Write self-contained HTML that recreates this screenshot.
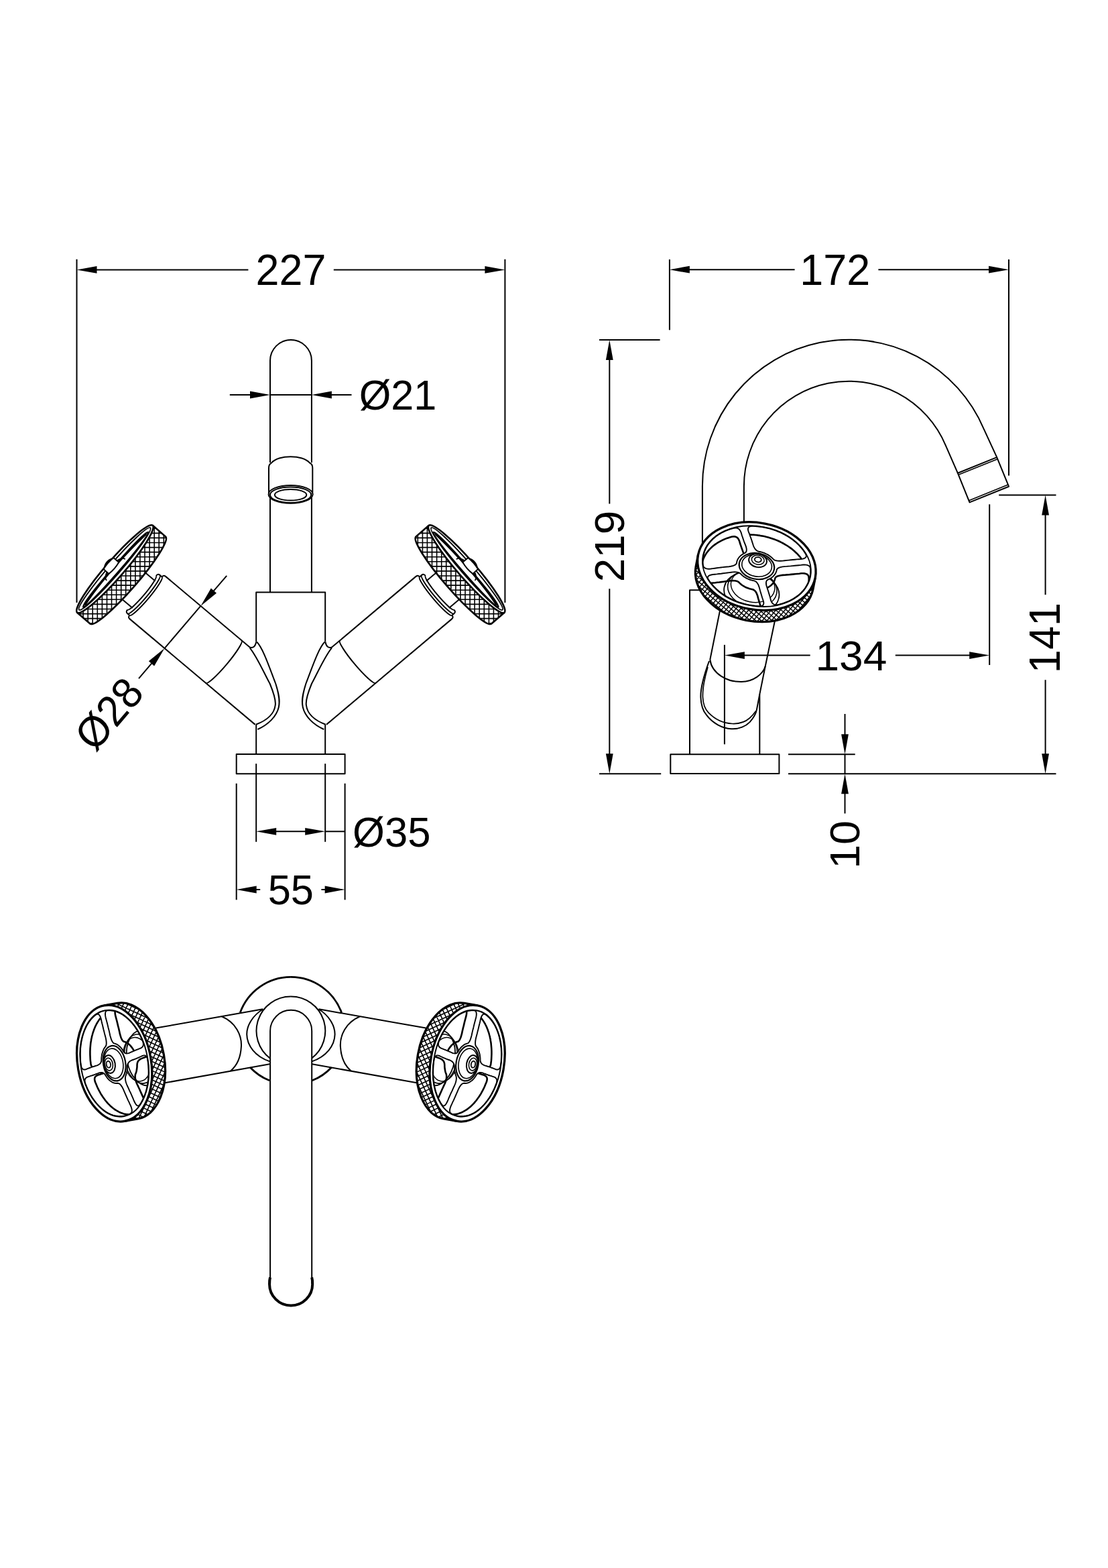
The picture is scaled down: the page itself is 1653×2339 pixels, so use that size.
<!DOCTYPE html>
<html lang="en">
<head>
<meta charset="utf-8">
<title>Tap technical drawing</title>
<style>
html,body{margin:0;padding:0;background:#fff;}
body{width:1653px;height:2339px;overflow:hidden;}
svg{display:block;}
svg text{font-family:"Liberation Sans",sans-serif;font-size:100px;fill:#000;stroke:none;}
</style>
</head>
<body>
<svg width="1653" height="2339" viewBox="0 0 1653 2339" fill="none" stroke="#000" stroke-width="2" stroke-linecap="butt" stroke-linejoin="round">
<rect x="0" y="0" width="1653" height="2339" fill="#fff" stroke="none"/>
<line x1="114.5" y1="386.8" x2="114.5" y2="899"/>
<line x1="753.4" y1="386.8" x2="753.4" y2="899"/>
<line x1="128" y1="402.4" x2="370.4" y2="402.4"/>
<line x1="497.8" y1="402.4" x2="740" y2="402.4"/>
<polygon points="114.5,402.4 144.5,397 144.5,407.8" fill="#000" stroke="none"/>
<polygon points="753.4,402.4 723.4,407.8 723.4,397" fill="#000" stroke="none"/>
<text transform="translate(381.56 425.3) scale(0.6284 0.6409)">227</text>
<path d="M403 690 L403 538 A30.95 30.95 0 0 1 464.9 538 L464.9 690"/>
<line x1="403" y1="741" x2="403" y2="883.4"/>
<line x1="464.9" y1="741" x2="464.9" y2="883.4"/>
<path d="M401 738 L401 698 C401 693 403 691.5 405 690.5 C415 678 452 678 462 690.5 C464.5 691.5 466.3 693 466.3 698 L466.3 738" fill="#fff"/>
<ellipse cx="433.6" cy="737.4" rx="33" ry="13.4" fill="#fff"/>
<ellipse cx="433.6" cy="738.2" rx="30.6" ry="11.7"/>
<ellipse cx="433.6" cy="738.3" rx="23.7" ry="8.3"/>
<line x1="342.8" y1="589" x2="389" y2="589"/>
<line x1="403" y1="589" x2="464.9" y2="589"/>
<line x1="479" y1="589" x2="524.5" y2="589"/>
<polygon points="403,589 373,594.4 373,583.6" fill="#000" stroke="none"/>
<polygon points="464.9,589 494.9,583.6 494.9,594.4" fill="#000" stroke="none"/>
<text transform="translate(535.71 611) scale(0.6116 0.6351)">Ø21</text>
<path d="M382.2 957.3 L382.2 883.4 L485.2 883.4 L485.2 957.3"/>
<line x1="382.2" y1="1081" x2="382.2" y2="1125.1"/>
<line x1="485.2" y1="1081" x2="485.2" y2="1125.1"/>
<rect x="352.7" y="1125.1" width="161.9" height="29.2"/>
<g transform="translate(272.45 935.5) rotate(40.1)">
<line x1="-100" y1="-26.3" x2="-75.5" y2="-26.3"/>
<line x1="-100" y1="26.3" x2="-75.5" y2="26.3"/>
<path d="M-79.5 -33 Q-80 -37.5 -76 -37.5 L-72 -37.5 M-79.5 33 Q-80 37.5 -76 37.5 L-72 37.5"/>
<path d="M-79.6 -33 A4.6 33 0 0 1 -79.6 33"/>
<path d="M-75.6 -37.3 A5.2 37.3 0 0 1 -75.6 37.3"/>
<path d="M-71.8 -37.5 Q-72.3 -41.5 -68 -41.5 M-71.8 37.5 Q-72.3 41.5 -68 41.5"/>
<path d="M-71.9 -37.6 A5.3 37.6 0 0 1 -71.9 37.6"/>
<line x1="-68.5" y1="-41.5" x2="96.8" y2="-41.5"/>
<line x1="-68.5" y1="41.5" x2="176.4" y2="41.5"/>
<path d="M80.2 -41.5 A5.8 41.5 0 0 1 80.2 41.5"/>
</g>
<path d="M373.1 965.7 Q380.5 967.5 382.2 957.3"/>
<path d="M372.6 966.3 C383 979 392 1000 402.7 1020 C408 1033 412 1044 410.7 1052 C409 1066 397 1075 381.8 1080.8"/>
<path d="M383 957.6 C392 966 402 996 411.3 1020 C416 1035 418 1045 415.8 1055 C412.5 1069 400 1081 384.4 1088"/>
<path d="M227.8 783.8 L247.21 800.64 A13.2 86 40.95 0 1 134.48 930.54 L115.07 913.71 A13.2 86 40.95 0 1 227.8 783.8 Z" fill="#fff" stroke="none"/>
<path d="M228.3 788.3L232.9 788.3 M225.7 795.4L240.9 795.4 M222.1 802.4L247.9 802.4 M217.9 809.5L246.3 809.5 M213.1 816.6L243.1 816.6 M208.1 823.6L238.9 823.6 M202.9 830.7L234.5 830.7 M197.5 837.8L229.5 837.8 M191.7 844.9L224.3 844.9 M185.9 851.9L219.1 851.9 M179.9 859L213.5 859 M173.5 866.1L207.7 866.1 M166.9 873.1L201.7 873.1 M160.3 880.2L195.5 880.2 M153.1 887.3L188.9 887.3 M145.7 894.3L182.3 894.3 M137.7 901.4L175.3 901.4 M128.5 908.5L168.1 908.5 M117.3 915.6L160.3 915.6 M125.5 922.6L151.7 922.6 M133.5 929.7L140.9 929.7 M244.3 798.2L244.3 814.2 M237.2 792.2L237.2 826.6 M230.2 786L230.2 837 M223.1 800.6L223.1 846.8 M216 812.4L216 855.8 M208.9 822.6L208.9 864.6 M201.9 832.2L201.9 873 M194.8 841.2L194.8 881 M187.7 849.8L187.7 888.8 M180.7 858L180.7 896.2 M173.6 866L173.6 903.2 M166.5 873.8L166.5 910 M159.5 881L159.5 916.4 M152.4 888L152.4 922.2 M145.3 894.8L145.3 927.2 M138.2 901L138.2 930.8 M131.2 906.6L131.2 927.6 M124.1 911.4L124.1 921.4 M117 914.2L117 915.4" stroke-width="1.6"/>
<path d="M227.8 783.8 L247.21 800.64 A13.2 86 40.95 0 1 134.48 930.54 L115.07 913.71" stroke-width="2.6"/>
<ellipse cx="171.44" cy="848.75" rx="13.2" ry="86" transform="rotate(40.95 171.44 848.75)" stroke-width="2.6" fill="#fff"/>
<g transform="translate(171.44 848.75) rotate(40.95)">
<ellipse cx="-0.4" cy="0" rx="8.6" ry="81" stroke-width="1.9"/>
<ellipse cx="1.6" cy="0" rx="5" ry="74" stroke-width="2.3"/>
<path d="M1.2 -70 C-1.8 -40 -2.3 -20 -2.3 0 C-2.3 25 -1.3 50 1.7 70" stroke-width="2.4"/>
<path d="M2 -21 A9.5 21 0 0 0 2 21" stroke-width="1.8"/>
<path d="M-2.2 -11.3 L-12.6 -11.3 Q-14.6 0 -12.6 11.3 L-2.2 11.3 Q0.2 0 -2.2 -11.3 Z" stroke-width="1.9" fill="#fff"/>
<path d="M-12.6 -10.8 Q-19.8 0 -12.6 10.8 Q-15 0 -12.6 -10.8 Z" stroke-width="1" fill="#000"/>
</g>
<g transform="translate(867.6 0) scale(-1 1)">
<g transform="translate(272.45 935.5) rotate(40.1)">
<line x1="-100" y1="-26.3" x2="-75.5" y2="-26.3"/>
<line x1="-100" y1="26.3" x2="-75.5" y2="26.3"/>
<path d="M-79.5 -33 Q-80 -37.5 -76 -37.5 L-72 -37.5 M-79.5 33 Q-80 37.5 -76 37.5 L-72 37.5"/>
<path d="M-79.6 -33 A4.6 33 0 0 1 -79.6 33"/>
<path d="M-75.6 -37.3 A5.2 37.3 0 0 1 -75.6 37.3"/>
<path d="M-71.8 -37.5 Q-72.3 -41.5 -68 -41.5 M-71.8 37.5 Q-72.3 41.5 -68 41.5"/>
<path d="M-71.9 -37.6 A5.3 37.6 0 0 1 -71.9 37.6"/>
<line x1="-68.5" y1="-41.5" x2="96.8" y2="-41.5"/>
<line x1="-68.5" y1="41.5" x2="176.4" y2="41.5"/>
<path d="M80.2 -41.5 A5.8 41.5 0 0 1 80.2 41.5"/>
</g>
<path d="M373.1 965.7 Q380.5 967.5 382.2 957.3"/>
<path d="M372.6 966.3 C383 979 392 1000 402.7 1020 C408 1033 412 1044 410.7 1052 C409 1066 397 1075 381.8 1080.8"/>
<path d="M383 957.6 C392 966 402 996 411.3 1020 C416 1035 418 1045 415.8 1055 C412.5 1069 400 1081 384.4 1088"/>
<path d="M227.8 783.8 L247.21 800.64 A13.2 86 40.95 0 1 134.48 930.54 L115.07 913.71 A13.2 86 40.95 0 1 227.8 783.8 Z" fill="#fff" stroke="none"/>
<path d="M228.3 788.3L232.9 788.3 M225.7 795.4L240.9 795.4 M222.1 802.4L247.9 802.4 M217.9 809.5L246.3 809.5 M213.1 816.6L243.1 816.6 M208.1 823.6L238.9 823.6 M202.9 830.7L234.5 830.7 M197.5 837.8L229.5 837.8 M191.7 844.9L224.3 844.9 M185.9 851.9L219.1 851.9 M179.9 859L213.5 859 M173.5 866.1L207.7 866.1 M166.9 873.1L201.7 873.1 M160.3 880.2L195.5 880.2 M153.1 887.3L188.9 887.3 M145.7 894.3L182.3 894.3 M137.7 901.4L175.3 901.4 M128.5 908.5L168.1 908.5 M117.3 915.6L160.3 915.6 M125.5 922.6L151.7 922.6 M133.5 929.7L140.9 929.7 M244.3 798.2L244.3 814.2 M237.2 792.2L237.2 826.6 M230.2 786L230.2 837 M223.1 800.6L223.1 846.8 M216 812.4L216 855.8 M208.9 822.6L208.9 864.6 M201.9 832.2L201.9 873 M194.8 841.2L194.8 881 M187.7 849.8L187.7 888.8 M180.7 858L180.7 896.2 M173.6 866L173.6 903.2 M166.5 873.8L166.5 910 M159.5 881L159.5 916.4 M152.4 888L152.4 922.2 M145.3 894.8L145.3 927.2 M138.2 901L138.2 930.8 M131.2 906.6L131.2 927.6 M124.1 911.4L124.1 921.4 M117 914.2L117 915.4" stroke-width="1.6"/>
<path d="M227.8 783.8 L247.21 800.64 A13.2 86 40.95 0 1 134.48 930.54 L115.07 913.71" stroke-width="2.6"/>
<ellipse cx="171.44" cy="848.75" rx="13.2" ry="86" transform="rotate(40.95 171.44 848.75)" stroke-width="2.6" fill="#fff"/>
<g transform="translate(171.44 848.75) rotate(40.95)">
<ellipse cx="-0.4" cy="0" rx="8.6" ry="81" stroke-width="1.9"/>
<ellipse cx="1.6" cy="0" rx="5" ry="74" stroke-width="2.3"/>
<path d="M1.2 -70 C-1.8 -40 -2.3 -20 -2.3 0 C-2.3 25 -1.3 50 1.7 70" stroke-width="2.4"/>
<path d="M2 -21 A9.5 21 0 0 0 2 21" stroke-width="1.8"/>
<path d="M-2.2 -11.3 L-12.6 -11.3 Q-14.6 0 -12.6 11.3 L-2.2 11.3 Q0.2 0 -2.2 -11.3 Z" stroke-width="1.9" fill="#fff"/>
<path d="M-12.6 -10.8 Q-19.8 0 -12.6 10.8 Q-15 0 -12.6 -10.8 Z" stroke-width="1" fill="#000"/>
</g>
</g>
<line x1="338.2" y1="858.8" x2="308.5" y2="893.3"/>
<line x1="299.4" y1="903.9" x2="245.5" y2="967.1"/>
<line x1="236.4" y1="977.7" x2="207" y2="1012.1"/>
<polygon points="299.4,903.9 314.82,877.61 323.02,884.64" fill="#000" stroke="none"/>
<polygon points="245.5,967.1 230.08,993.39 221.88,986.36" fill="#000" stroke="none"/>
<text transform="translate(179.3 1079.2) rotate(-49.4) scale(0.6160 0.6423) translate(-94.2500 0)">Ø28</text>
<line x1="382.2" y1="1139.2" x2="382.2" y2="1255.8"/>
<line x1="485.2" y1="1139.2" x2="485.2" y2="1255.8"/>
<line x1="352.7" y1="1168.7" x2="352.7" y2="1342.3"/>
<line x1="514.6" y1="1168.7" x2="514.6" y2="1342.3"/>
<line x1="396" y1="1240.3" x2="471" y2="1240.3"/>
<line x1="485.2" y1="1240.3" x2="514.6" y2="1240.3"/>
<polygon points="382.2,1240.3 412.2,1234.9 412.2,1245.7" fill="#000" stroke="none"/>
<polygon points="485.2,1240.3 455.2,1245.7 455.2,1234.9" fill="#000" stroke="none"/>
<text transform="translate(526.09 1263.36) scale(0.6152 0.6375)">Ø35</text>
<line x1="366" y1="1327" x2="388.2" y2="1327"/>
<line x1="479.4" y1="1327" x2="501" y2="1327"/>
<polygon points="352.7,1327 382.7,1321.6 382.7,1332.4" fill="#000" stroke="none"/>
<polygon points="514.6,1327 484.6,1332.4 484.6,1321.6" fill="#000" stroke="none"/>
<text transform="translate(399.75 1348.96) scale(0.6136 0.6366)">55</text>
<line x1="998.9" y1="387" x2="998.9" y2="492.3"/>
<line x1="1505" y1="387" x2="1505" y2="709.4"/>
<line x1="1013" y1="402.2" x2="1185.6" y2="402.2"/>
<line x1="1310.4" y1="402.2" x2="1491" y2="402.2"/>
<polygon points="998.9,402.2 1028.9,396.8 1028.9,407.6" fill="#000" stroke="none"/>
<polygon points="1505,402.2 1475,407.6 1475,396.8" fill="#000" stroke="none"/>
<text transform="translate(1193.28 425.3) scale(0.6288 0.6409)">172</text>
<line x1="894" y1="507.1" x2="984.6" y2="507.1"/>
<line x1="894" y1="1154.3" x2="986.2" y2="1154.3"/>
<line x1="909.3" y1="521" x2="909.3" y2="751.5"/>
<line x1="909.3" y1="878.2" x2="909.3" y2="1140"/>
<polygon points="909.3,507.1 914.7,537.1 903.9,537.1" fill="#000" stroke="none"/>
<polygon points="909.3,1154.3 903.9,1124.3 914.7,1124.3" fill="#000" stroke="none"/>
<text transform="translate(930.67 868.19) rotate(-90) scale(0.6378 0.6318)">219</text>
<line x1="1490.2" y1="738.6" x2="1575.5" y2="738.6"/>
<line x1="1176" y1="1154.3" x2="1575.5" y2="1154.3"/>
<line x1="1559.6" y1="752.5" x2="1559.6" y2="887.2"/>
<line x1="1559.6" y1="1014.2" x2="1559.6" y2="1140"/>
<polygon points="1559.6,738.6 1565,768.6 1554.2,768.6" fill="#000" stroke="none"/>
<polygon points="1559.6,1154.3 1554.2,1124.3 1565,1124.3" fill="#000" stroke="none"/>
<text transform="translate(1580.9 1004.13) rotate(-90) scale(0.6304 0.6502)">141</text>
<line x1="1080.9" y1="961.9" x2="1080.9" y2="1110.3"/>
<line x1="1476.2" y1="752.3" x2="1476.2" y2="992"/>
<line x1="1095" y1="977.6" x2="1208.7" y2="977.6"/>
<line x1="1335.8" y1="977.6" x2="1462" y2="977.6"/>
<polygon points="1080.9,977.6 1110.9,972.2 1110.9,983" fill="#000" stroke="none"/>
<polygon points="1476.2,977.6 1446.2,983 1446.2,972.2" fill="#000" stroke="none"/>
<text transform="translate(1216.39 999.97) scale(0.6409 0.6318)">134</text>
<line x1="1176" y1="1125.2" x2="1275.7" y2="1125.2"/>
<line x1="1260.5" y1="1065" x2="1260.5" y2="1111"/>
<line x1="1260.5" y1="1125.2" x2="1260.5" y2="1154.3"/>
<line x1="1260.5" y1="1168" x2="1260.5" y2="1213.5"/>
<polygon points="1260.5,1125.2 1255.1,1095.2 1265.9,1095.2" fill="#000" stroke="none"/>
<polygon points="1260.5,1154.3 1265.9,1184.3 1255.1,1184.3" fill="#000" stroke="none"/>
<text transform="translate(1282.17 1295.96) rotate(-90) scale(0.6486 0.6318)">10</text>
<path d="M1047.9 812 L1047.9 725.3 A218.6 218.6 0 0 1 1467.72 639.89 L1487.2 682.1"/>
<path d="M1109.9 790 L1109.9 725.3 A156.6 156.6 0 0 1 1410.65 664.11 L1428.8 705.7"/>
<path d="M1428.8 705.7 L1487.2 682.1 L1505 725.7 L1446.5 749.4 Z"/>
<path d="M1429.8 708.3 L1488.3 684.7" stroke-width="1.6"/>
<path d="M1445.4 746.7 L1503.9 723" stroke-width="1.6"/>
<rect x="1000.3" y="1125.2" width="162.1" height="28.9"/>
<path d="M1029 1125.2 L1029 880.2 L1060 880.2"/>
<line x1="1133.3" y1="1035.6" x2="1133.3" y2="1125.2"/>
<path d="M1074.6 908 L1059.3 984"/>
<path d="M1156.2 925 L1141.7 994 L1133.3 1035.6 L1128.6 1060.2"/>
<path d="M1059.3 984 C1062 1005 1085 1017.5 1106.3 1017.1 C1124 1016.5 1138 1006 1141.7 994"/>
<path d="M1058 986 C1051 1005 1045 1025 1045.4 1040 C1046 1055 1050 1062 1053.9 1066.4 C1063 1079 1078 1086.5 1090.9 1087.2 C1103 1088 1113 1083 1118.6 1077.1 C1124 1071 1127 1066 1128.6 1060.2"/>
<path d="M1056 995 C1051 1012 1048 1028 1048.5 1040 C1049 1053 1053 1059 1057 1063.2 C1066 1072.5 1079 1079 1092.4 1079.5 C1104 1080 1113 1076 1118.6 1071 C1124 1066 1126.5 1062 1127.9 1060.2" stroke-width="1.7"/>
<path d="M1216.26 861.58 L1212.9 878.9 A64.7 89 101 0 1 1038.17 844.94 L1041.54 827.62 A64.7 89 101 0 1 1216.26 861.58 Z" fill="#fff" stroke="none"/>
<path d="M1214.1 869.4L1214.5 869.8 M1212 874.4L1213.5 875.7 M1209.2 878.9L1212.3 881.5 M1206.2 883.1L1210.5 886.7 M1202.7 887L1208.4 891.7 M1198.9 890.6L1205.6 896.2 M1194.8 893.9L1202.6 900.5 M1190.2 896.9L1199.1 904.3 M1185.5 899.7L1195.3 907.9 M1180.3 902.2L1191.2 911.3 M1174.8 904.3L1186.8 914.4 M1169 906.3L1181.9 917.1 M1162.8 907.8L1176.7 919.5 M1156.1 909L1171.2 921.7 M1149 909.9L1165.4 923.6 M1141.4 910.2L1159.2 925.2 M1133 910L1152.6 926.4 M1039.6 838.4L1040.7 839.3 M1124 909.2L1145.5 927.2 M1038.4 844.2L1041.8 847 M1113.8 907.4L1137.8 927.6 M1037.5 850.2L1044.5 856.1 M1101.7 904.1L1129.6 927.5 M1037.5 857L1051.5 868.7 M1085.6 897.4L1120.4 926.6 M1038.5 864.6L1110.2 924.8 M1041.4 873.8L1098.1 921.4 M1048.2 886.3L1082.2 914.9 M1210.4 887.4L1188.9 913 M1213.5 875.6L1176.4 919.7 M1187.4 898.6L1166.7 923.3 M1176.2 903.9L1158 925.5 M1166.9 906.8L1150.2 926.7 M1158.7 908.5L1142.9 927.4 M1151 909.6L1135.9 927.6 M1143.8 910.1L1129.3 927.4 M1137 910.1L1123 926.8 M1130.4 909.9L1116.9 925.9 M1124.1 909.3L1111 924.9 M1118.2 908.2L1105.4 923.6 M1112.4 907L1100 921.9 M1106.8 905.7L1094.6 920.2 M1101.4 904L1089.5 918.1 M1096.1 902.2L1084.5 916 M1091.1 900.1L1079.8 913.6 M1086.2 897.8L1075.3 910.9 M1081.6 895.3L1070.8 908.1 M1077 892.7L1066.5 905.1 M1072.6 889.8L1062.6 901.7 M1068.5 886.6L1058.6 898.4 M1064.5 883.3L1055 894.6 M1060.6 879.8L1051.5 890.6 M1057 876L1048.3 886.4 M1053.7 871.9L1045.3 881.8 M1050.6 867.4L1042.8 876.8 M1047.7 862.9L1040.5 871.5 M1045.2 857.7L1038.7 865.5 M1043.2 852.1L1037.6 858.6 M1041.5 846L1037.5 850.7 M1040.7 838.8L1039.1 840.8" stroke-width="1.5"/>
<path d="M1216.26 861.58 L1212.9 878.9 A64.7 89 101 0 1 1038.17 844.94 L1041.54 827.62" stroke-width="3.3"/>
<ellipse cx="1128.9" cy="844.6" rx="64.7" ry="89" transform="rotate(101 1128.9 844.6)" stroke-width="3.3" fill="#fff"/>
<ellipse cx="1128.9" cy="844.6" rx="59.32" ry="81.6" transform="rotate(101 1128.9 844.6)" stroke-width="2"/>
<clipPath id="wc1"><path d="M1098.9 840.1 L1099.1 839 L1099.3 837.9 L1099.6 836.8 L1100 835.7 L1100.5 834.7 L1101 833.7 L1101.6 832.7 L1102.3 831.7 L1103.1 830.8 L1103.9 829.9 L1104.8 829.1 L1105.8 828.3 L1106.8 827.5 L1107.9 826.8 L1109 826.1 L1110.2 825.5 L1111.4 824.9 L1112.4 824.1 L1113.1 823.1 L1113.6 821.8 L1113.8 820.4 L1113.7 818.7 L1113.3 816.8 L1112.7 814.7 L1111.8 812.4 L1110.9 810.1 L1110 807.8 L1109.2 805.5 L1108.4 803.1 L1107.6 800.8 L1106.8 798.5 L1106.1 796.1 L1105.4 793.8 L1104.4 791.8 L1103.3 790.2 L1102.1 789 L1100.6 788.1 L1098.9 787.6 L1097.1 787.5 L1095.1 787.7 L1092.9 788.3 L1090.7 788.9 L1088.6 789.6 L1086.5 790.3 L1084.5 791.1 L1082.5 791.9 L1080.5 792.8 L1078.6 793.8 L1076.7 794.7 L1074.9 795.8 L1073.1 796.8 L1071.4 798 L1069.7 799.1 L1068.1 800.3 L1066.6 801.5 L1065.1 802.8 L1063.6 804.1 L1062.2 805.5 L1060.9 806.9 L1059.6 808.3 L1058.4 809.8 L1057.3 811.2 L1056.2 812.8 L1055.2 814.3 L1054.3 815.9 L1053.4 817.5 L1052.6 819.1 L1051.9 820.8 L1051.2 822.4 L1050.7 824.1 L1050.2 825.8 L1049.7 827.6 L1049.3 829.3 L1049 831.1 L1048.8 832.9 L1048.7 834.6 L1048.6 836.4 L1048.6 838.2 L1048.7 840 L1048.8 841.8 L1049 843.7 L1049.6 845.2 L1050.5 846.5 L1051.8 847.4 L1053.4 848.1 L1055.4 848.5 L1057.7 848.7 L1060.3 848.5 L1063.3 848.1 L1066.4 847.7 L1069.4 847.3 L1072.4 846.9 L1075.4 846.5 L1078.5 846.1 L1081.5 845.8 L1084.6 845.5 L1087.6 845.2 L1090.3 844.8 L1092.7 844.3 L1094.6 843.7 L1096.2 842.9 L1097.5 842.1 L1098.4 841.2 Z"/></clipPath>
<g clip-path="url(#wc1)">
<path d="M1096.4 853 L1096.6 851.8 L1096.8 850.7 L1097.1 849.6 L1097.5 848.6 L1098 847.5 L1098.5 846.5 L1099.2 845.5 L1099.8 844.5 L1100.6 843.6 L1101.5 842.7 L1102.3 841.9 L1103.3 841.1 L1104.3 840.3 L1105.4 839.6 L1106.5 838.9 L1107.7 838.3 L1109 837.7 L1109.9 836.9 L1110.7 835.9 L1111.1 834.6 L1111.3 833.2 L1111.2 831.5 L1110.8 829.6 L1110.2 827.5 L1109.3 825.2 L1108.4 822.9 L1107.6 820.6 L1106.7 818.3 L1105.9 815.9 L1105.1 813.6 L1104.3 811.3 L1103.6 808.9 L1102.9 806.6 L1101.9 804.6 L1100.9 803 L1099.6 801.8 L1098.1 800.9 L1096.5 800.4 L1094.6 800.3 L1092.6 800.5 L1090.4 801.1 L1088.2 801.7 L1086.1 802.4 L1084 803.1 L1082 803.9 L1080 804.7 L1078 805.6 L1076.1 806.6 L1074.2 807.6 L1072.4 808.6 L1070.6 809.6 L1068.9 810.8 L1067.2 811.9 L1065.6 813.1 L1064.1 814.3 L1062.6 815.6 L1061.1 816.9 L1059.7 818.3 L1058.4 819.7 L1057.1 821.1 L1055.9 822.6 L1054.8 824.1 L1053.7 825.6 L1052.7 827.1 L1051.8 828.7 L1050.9 830.3 L1050.1 831.9 L1049.4 833.6 L1048.8 835.3 L1048.2 836.9 L1047.7 838.7 L1047.2 840.4 L1046.9 842.1 L1046.6 843.9 L1046.3 845.7 L1046.2 847.4 L1046.1 849.2 L1046.1 851 L1046.2 852.8 L1046.3 854.6 L1046.5 856.5 L1047.1 858 L1048 859.3 L1049.3 860.2 L1050.9 860.9 L1052.9 861.3 L1055.2 861.5 L1057.8 861.3 L1060.8 860.9 L1063.9 860.5 L1066.9 860.1 L1069.9 859.7 L1072.9 859.3 L1076 859 L1079 858.6 L1082.1 858.3 L1085.1 858 L1087.8 857.6 L1090.2 857.1 L1092.1 856.5 L1093.7 855.7 L1095 854.9 L1095.9 854 Z" stroke-width="2.6"/>
<ellipse cx="1122.35" cy="878.3" rx="26.9" ry="37" transform="rotate(101 1122.35 878.3)" stroke-width="1.6"/>
<ellipse cx="1121.3" cy="883.69" rx="30.17" ry="41.5" transform="rotate(101 1121.3 883.69)" stroke-width="1.8"/>
<ellipse cx="1123.14" cy="874.26" rx="23.99" ry="33" transform="rotate(101 1123.14 874.26)" stroke-width="1.5"/>
</g>
<path d="M1098.9 840.1 L1099.1 839 L1099.3 837.9 L1099.6 836.8 L1100 835.7 L1100.5 834.7 L1101 833.7 L1101.6 832.7 L1102.3 831.7 L1103.1 830.8 L1103.9 829.9 L1104.8 829.1 L1105.8 828.3 L1106.8 827.5 L1107.9 826.8 L1109 826.1 L1110.2 825.5 L1111.4 824.9 L1112.4 824.1 L1113.1 823.1 L1113.6 821.8 L1113.8 820.4 L1113.7 818.7 L1113.3 816.8 L1112.7 814.7 L1111.8 812.4 L1110.9 810.1 L1110 807.8 L1109.2 805.5 L1108.4 803.1 L1107.6 800.8 L1106.8 798.5 L1106.1 796.1 L1105.4 793.8 L1104.4 791.8 L1103.3 790.2 L1102.1 789 L1100.6 788.1 L1098.9 787.6 L1097.1 787.5 L1095.1 787.7 L1092.9 788.3 L1090.7 788.9 L1088.6 789.6 L1086.5 790.3 L1084.5 791.1 L1082.5 791.9 L1080.5 792.8 L1078.6 793.8 L1076.7 794.7 L1074.9 795.8 L1073.1 796.8 L1071.4 798 L1069.7 799.1 L1068.1 800.3 L1066.6 801.5 L1065.1 802.8 L1063.6 804.1 L1062.2 805.5 L1060.9 806.9 L1059.6 808.3 L1058.4 809.8 L1057.3 811.2 L1056.2 812.8 L1055.2 814.3 L1054.3 815.9 L1053.4 817.5 L1052.6 819.1 L1051.9 820.8 L1051.2 822.4 L1050.7 824.1 L1050.2 825.8 L1049.7 827.6 L1049.3 829.3 L1049 831.1 L1048.8 832.9 L1048.7 834.6 L1048.6 836.4 L1048.6 838.2 L1048.7 840 L1048.8 841.8 L1049 843.7 L1049.6 845.2 L1050.5 846.5 L1051.8 847.4 L1053.4 848.1 L1055.4 848.5 L1057.7 848.7 L1060.3 848.5 L1063.3 848.1 L1066.4 847.7 L1069.4 847.3 L1072.4 846.9 L1075.4 846.5 L1078.5 846.1 L1081.5 845.8 L1084.6 845.5 L1087.6 845.2 L1090.3 844.8 L1092.7 844.3 L1094.6 843.7 L1096.2 842.9 L1097.5 842.1 L1098.4 841.2 Z" stroke-width="1.9"/>
<clipPath id="wc2"><path d="M1131.8 822.7 L1133.4 823 L1134.9 823.3 L1136.4 823.7 L1137.9 824.1 L1139.3 824.6 L1140.7 825.2 L1142.1 825.8 L1143.5 826.5 L1144.9 827.2 L1146.2 827.9 L1147.4 828.7 L1148.6 829.5 L1149.7 830.4 L1150.8 831.3 L1151.8 832.2 L1152.8 833.2 L1153.7 834.2 L1154.9 835.1 L1156.4 835.8 L1158.1 836.3 L1160 836.6 L1162.3 836.8 L1164.8 836.8 L1167.6 836.6 L1170.6 836.2 L1173.7 835.9 L1176.7 835.6 L1179.8 835.3 L1182.8 835 L1185.9 834.7 L1189 834.4 L1192 834.2 L1195.1 834 L1197.7 833.6 L1199.8 833 L1201.3 832.2 L1202.3 831.2 L1202.8 830 L1202.8 828.7 L1202.3 827.1 L1201.3 825.4 L1200.2 823.7 L1199.1 822 L1197.9 820.3 L1196.6 818.7 L1195.3 817.1 L1193.9 815.5 L1192.4 813.9 L1190.9 812.4 L1189.3 810.9 L1187.7 809.4 L1186 807.9 L1184.2 806.5 L1182.5 805.1 L1180.6 803.8 L1178.7 802.5 L1176.8 801.2 L1174.8 800 L1172.8 798.8 L1170.8 797.7 L1168.7 796.6 L1166.5 795.5 L1164.4 794.5 L1162.2 793.5 L1159.9 792.6 L1157.7 791.7 L1155.4 790.9 L1153.1 790.1 L1150.8 789.4 L1148.4 788.7 L1146.1 788.1 L1143.7 787.5 L1141.3 787 L1138.9 786.5 L1136.4 786.1 L1134 785.8 L1131.6 785.5 L1129.2 785.2 L1126.7 785 L1124.3 784.9 L1121.9 784.8 L1119.8 785 L1118.2 785.5 L1117.1 786.3 L1116.3 787.4 L1115.9 788.9 L1116 790.6 L1116.5 792.6 L1117.4 794.9 L1118.3 797.2 L1119.1 799.6 L1120 801.9 L1120.8 804.2 L1121.6 806.5 L1122.3 808.9 L1123.1 811.2 L1123.8 813.5 L1124.6 815.6 L1125.6 817.4 L1126.6 819 L1127.8 820.3 L1129 821.4 L1130.4 822.2 Z"/></clipPath>
<g clip-path="url(#wc2)">
<path d="M1129.3 835.5 L1130.9 835.8 L1132.4 836.1 L1133.9 836.5 L1135.4 837 L1136.8 837.4 L1138.3 838 L1139.7 838.6 L1141 839.3 L1142.4 840 L1143.7 840.7 L1144.9 841.5 L1146.1 842.3 L1147.2 843.2 L1148.3 844.1 L1149.3 845 L1150.3 846 L1151.2 847 L1152.4 847.9 L1153.9 848.6 L1155.6 849.1 L1157.6 849.4 L1159.8 849.6 L1162.3 849.6 L1165.1 849.4 L1168.1 849 L1171.2 848.7 L1174.2 848.4 L1177.3 848.1 L1180.3 847.8 L1183.4 847.5 L1186.5 847.3 L1189.6 847 L1192.6 846.8 L1195.2 846.4 L1197.3 845.8 L1198.8 845 L1199.8 844 L1200.4 842.8 L1200.4 841.5 L1199.8 839.9 L1198.8 838.2 L1197.7 836.5 L1196.6 834.8 L1195.4 833.2 L1194.1 831.5 L1192.8 829.9 L1191.4 828.3 L1189.9 826.7 L1188.4 825.2 L1186.8 823.7 L1185.2 822.2 L1183.5 820.7 L1181.8 819.3 L1180 817.9 L1178.1 816.6 L1176.2 815.3 L1174.3 814 L1172.3 812.8 L1170.3 811.6 L1168.3 810.5 L1166.2 809.4 L1164.1 808.3 L1161.9 807.3 L1159.7 806.3 L1157.4 805.4 L1155.2 804.5 L1152.9 803.7 L1150.6 802.9 L1148.3 802.2 L1145.9 801.5 L1143.6 800.9 L1141.2 800.3 L1138.8 799.8 L1136.4 799.4 L1133.9 798.9 L1131.5 798.6 L1129.1 798.3 L1126.7 798 L1124.2 797.8 L1121.8 797.7 L1119.4 797.6 L1117.4 797.8 L1115.8 798.3 L1114.6 799.1 L1113.8 800.3 L1113.4 801.7 L1113.5 803.4 L1114 805.4 L1114.9 807.7 L1115.8 810 L1116.6 812.4 L1117.5 814.7 L1118.3 817 L1119.1 819.3 L1119.8 821.7 L1120.6 824 L1121.3 826.3 L1122.2 828.4 L1123.1 830.2 L1124.1 831.8 L1125.3 833.1 L1126.5 834.2 L1127.9 835 Z" stroke-width="2.6"/>
<ellipse cx="1122.35" cy="878.3" rx="26.9" ry="37" transform="rotate(101 1122.35 878.3)" stroke-width="1.6"/>
<ellipse cx="1121.3" cy="883.69" rx="30.17" ry="41.5" transform="rotate(101 1121.3 883.69)" stroke-width="1.8"/>
<ellipse cx="1123.14" cy="874.26" rx="23.99" ry="33" transform="rotate(101 1123.14 874.26)" stroke-width="1.5"/>
</g>
<path d="M1131.8 822.7 L1133.4 823 L1134.9 823.3 L1136.4 823.7 L1137.9 824.1 L1139.3 824.6 L1140.7 825.2 L1142.1 825.8 L1143.5 826.5 L1144.9 827.2 L1146.2 827.9 L1147.4 828.7 L1148.6 829.5 L1149.7 830.4 L1150.8 831.3 L1151.8 832.2 L1152.8 833.2 L1153.7 834.2 L1154.9 835.1 L1156.4 835.8 L1158.1 836.3 L1160 836.6 L1162.3 836.8 L1164.8 836.8 L1167.6 836.6 L1170.6 836.2 L1173.7 835.9 L1176.7 835.6 L1179.8 835.3 L1182.8 835 L1185.9 834.7 L1189 834.4 L1192 834.2 L1195.1 834 L1197.7 833.6 L1199.8 833 L1201.3 832.2 L1202.3 831.2 L1202.8 830 L1202.8 828.7 L1202.3 827.1 L1201.3 825.4 L1200.2 823.7 L1199.1 822 L1197.9 820.3 L1196.6 818.7 L1195.3 817.1 L1193.9 815.5 L1192.4 813.9 L1190.9 812.4 L1189.3 810.9 L1187.7 809.4 L1186 807.9 L1184.2 806.5 L1182.5 805.1 L1180.6 803.8 L1178.7 802.5 L1176.8 801.2 L1174.8 800 L1172.8 798.8 L1170.8 797.7 L1168.7 796.6 L1166.5 795.5 L1164.4 794.5 L1162.2 793.5 L1159.9 792.6 L1157.7 791.7 L1155.4 790.9 L1153.1 790.1 L1150.8 789.4 L1148.4 788.7 L1146.1 788.1 L1143.7 787.5 L1141.3 787 L1138.9 786.5 L1136.4 786.1 L1134 785.8 L1131.6 785.5 L1129.2 785.2 L1126.7 785 L1124.3 784.9 L1121.9 784.8 L1119.8 785 L1118.2 785.5 L1117.1 786.3 L1116.3 787.4 L1115.9 788.9 L1116 790.6 L1116.5 792.6 L1117.4 794.9 L1118.3 797.2 L1119.1 799.6 L1120 801.9 L1120.8 804.2 L1121.6 806.5 L1122.3 808.9 L1123.1 811.2 L1123.8 813.5 L1124.6 815.6 L1125.6 817.4 L1126.6 819 L1127.8 820.3 L1129 821.4 L1130.4 822.2 Z" stroke-width="1.9"/>
<clipPath id="wc3"><path d="M1158.8 849.8 L1158.6 850.9 L1158.3 852 L1157.9 853.1 L1157.5 854.2 L1157 855.2 L1156.4 856.2 L1155.7 857.1 L1155 858.1 L1154.1 859 L1153.3 859.9 L1152.3 860.7 L1151.3 861.5 L1150.3 862.2 L1149.2 862.9 L1148 863.5 L1146.8 864.1 L1145.5 864.7 L1144.5 865.4 L1143.7 866.4 L1143.2 867.6 L1142.9 869.1 L1143 870.7 L1143.2 872.6 L1143.8 874.7 L1144.6 877.1 L1145.3 879.4 L1146.1 881.7 L1146.8 884.1 L1147.5 886.4 L1148.2 888.7 L1148.9 891.1 L1149.5 893.4 L1150.1 895.8 L1151 897.8 L1152 899.4 L1153.2 900.7 L1154.6 901.6 L1156.3 902.1 L1158.1 902.3 L1160.1 902.1 L1162.4 901.6 L1164.6 901 L1166.7 900.4 L1168.9 899.7 L1170.9 899 L1173 898.2 L1175 897.4 L1177 896.5 L1178.9 895.6 L1180.8 894.6 L1182.6 893.6 L1184.4 892.5 L1186.1 891.4 L1187.8 890.3 L1189.4 889.1 L1191 887.9 L1192.5 886.6 L1194 885.3 L1195.4 883.9 L1196.7 882.5 L1198 881.1 L1199.2 879.7 L1200.3 878.2 L1201.4 876.7 L1202.4 875.1 L1203.4 873.5 L1204.2 871.9 L1205.1 870.3 L1205.8 868.7 L1206.5 867 L1207 865.3 L1207.6 863.6 L1208 861.9 L1208.4 860.1 L1208.7 858.4 L1209 856.6 L1209.1 854.8 L1209.2 853 L1209.2 851.3 L1209.1 849.4 L1209 847.6 L1208.5 846.1 L1207.7 844.8 L1206.4 843.8 L1204.8 843.1 L1202.9 842.6 L1200.6 842.4 L1197.9 842.5 L1194.9 842.9 L1191.8 843.2 L1188.8 843.5 L1185.7 843.8 L1182.7 844.1 L1179.6 844.4 L1176.5 844.6 L1173.4 844.9 L1170.4 845.1 L1167.6 845.4 L1165.3 845.9 L1163.3 846.4 L1161.6 847.1 L1160.3 847.9 L1159.4 848.8 Z"/></clipPath>
<g clip-path="url(#wc3)">
<path d="M1156.3 862.6 L1156.1 863.8 L1155.8 864.9 L1155.4 865.9 L1155 867 L1154.5 868 L1153.9 869 L1153.2 870 L1152.5 870.9 L1151.6 871.8 L1150.8 872.7 L1149.8 873.5 L1148.8 874.3 L1147.8 875 L1146.7 875.7 L1145.5 876.3 L1144.3 876.9 L1143 877.5 L1142 878.2 L1141.2 879.2 L1140.7 880.5 L1140.5 881.9 L1140.5 883.6 L1140.7 885.4 L1141.3 887.5 L1142.1 889.9 L1142.8 892.2 L1143.6 894.5 L1144.3 896.9 L1145 899.2 L1145.7 901.6 L1146.4 903.9 L1147 906.2 L1147.6 908.6 L1148.5 910.6 L1149.5 912.2 L1150.7 913.5 L1152.2 914.4 L1153.8 914.9 L1155.6 915.1 L1157.6 914.9 L1159.9 914.4 L1162.1 913.8 L1164.2 913.2 L1166.4 912.5 L1168.5 911.8 L1170.5 911 L1172.5 910.2 L1174.5 909.3 L1176.4 908.4 L1178.3 907.4 L1180.1 906.4 L1181.9 905.3 L1183.6 904.2 L1185.3 903.1 L1186.9 901.9 L1188.5 900.7 L1190 899.4 L1191.5 898.1 L1192.9 896.7 L1194.2 895.3 L1195.5 893.9 L1196.7 892.5 L1197.8 891 L1198.9 889.5 L1199.9 887.9 L1200.9 886.3 L1201.8 884.7 L1202.6 883.1 L1203.3 881.5 L1204 879.8 L1204.6 878.1 L1205.1 876.4 L1205.5 874.7 L1205.9 872.9 L1206.2 871.2 L1206.5 869.4 L1206.6 867.6 L1206.7 865.9 L1206.7 864.1 L1206.7 862.3 L1206.5 860.4 L1206 858.9 L1205.2 857.6 L1203.9 856.6 L1202.4 855.9 L1200.4 855.4 L1198.1 855.2 L1195.4 855.3 L1192.4 855.7 L1189.3 856 L1186.3 856.3 L1183.2 856.6 L1180.2 856.9 L1177.1 857.2 L1174 857.4 L1170.9 857.7 L1167.9 857.9 L1165.1 858.2 L1162.8 858.7 L1160.8 859.2 L1159.1 859.9 L1157.8 860.7 L1156.9 861.6 Z" stroke-width="2.6"/>
<ellipse cx="1122.35" cy="878.3" rx="26.9" ry="37" transform="rotate(101 1122.35 878.3)" stroke-width="1.6"/>
<ellipse cx="1121.3" cy="883.69" rx="30.17" ry="41.5" transform="rotate(101 1121.3 883.69)" stroke-width="1.8"/>
<ellipse cx="1123.14" cy="874.26" rx="23.99" ry="33" transform="rotate(101 1123.14 874.26)" stroke-width="1.5"/>
</g>
<path d="M1158.8 849.8 L1158.6 850.9 L1158.3 852 L1157.9 853.1 L1157.5 854.2 L1157 855.2 L1156.4 856.2 L1155.7 857.1 L1155 858.1 L1154.1 859 L1153.3 859.9 L1152.3 860.7 L1151.3 861.5 L1150.3 862.2 L1149.2 862.9 L1148 863.5 L1146.8 864.1 L1145.5 864.7 L1144.5 865.4 L1143.7 866.4 L1143.2 867.6 L1142.9 869.1 L1143 870.7 L1143.2 872.6 L1143.8 874.7 L1144.6 877.1 L1145.3 879.4 L1146.1 881.7 L1146.8 884.1 L1147.5 886.4 L1148.2 888.7 L1148.9 891.1 L1149.5 893.4 L1150.1 895.8 L1151 897.8 L1152 899.4 L1153.2 900.7 L1154.6 901.6 L1156.3 902.1 L1158.1 902.3 L1160.1 902.1 L1162.4 901.6 L1164.6 901 L1166.7 900.4 L1168.9 899.7 L1170.9 899 L1173 898.2 L1175 897.4 L1177 896.5 L1178.9 895.6 L1180.8 894.6 L1182.6 893.6 L1184.4 892.5 L1186.1 891.4 L1187.8 890.3 L1189.4 889.1 L1191 887.9 L1192.5 886.6 L1194 885.3 L1195.4 883.9 L1196.7 882.5 L1198 881.1 L1199.2 879.7 L1200.3 878.2 L1201.4 876.7 L1202.4 875.1 L1203.4 873.5 L1204.2 871.9 L1205.1 870.3 L1205.8 868.7 L1206.5 867 L1207 865.3 L1207.6 863.6 L1208 861.9 L1208.4 860.1 L1208.7 858.4 L1209 856.6 L1209.1 854.8 L1209.2 853 L1209.2 851.3 L1209.1 849.4 L1209 847.6 L1208.5 846.1 L1207.7 844.8 L1206.4 843.8 L1204.8 843.1 L1202.9 842.6 L1200.6 842.4 L1197.9 842.5 L1194.9 842.9 L1191.8 843.2 L1188.8 843.5 L1185.7 843.8 L1182.7 844.1 L1179.6 844.4 L1176.5 844.6 L1173.4 844.9 L1170.4 845.1 L1167.6 845.4 L1165.3 845.9 L1163.3 846.4 L1161.6 847.1 L1160.3 847.9 L1159.4 848.8 Z" stroke-width="1.9"/>
<clipPath id="wc4"><path d="M1125.2 866.4 L1123.8 866.1 L1122.3 865.8 L1120.9 865.4 L1119.5 865 L1118.2 864.5 L1116.8 864 L1115.5 863.4 L1114.2 862.8 L1112.9 862.1 L1111.7 861.4 L1110.5 860.7 L1109.4 859.9 L1108.3 859.1 L1107.3 858.2 L1106.3 857.3 L1105.3 856.4 L1104.5 855.5 L1103.3 854.7 L1101.9 854.1 L1100.2 853.7 L1098.2 853.4 L1096 853.3 L1093.5 853.4 L1090.8 853.7 L1087.8 854.1 L1084.8 854.5 L1081.8 854.9 L1078.7 855.3 L1075.7 855.7 L1072.7 856 L1069.6 856.4 L1066.6 856.7 L1063.5 857 L1061 857.5 L1058.9 858.1 L1057.4 858.9 L1056.4 859.9 L1055.9 861 L1055.9 862.3 L1056.4 863.8 L1057.5 865.4 L1058.5 867 L1059.7 868.6 L1060.9 870.2 L1062.2 871.7 L1063.5 873.2 L1064.8 874.8 L1066.3 876.2 L1067.8 877.7 L1069.3 879.1 L1070.9 880.5 L1072.5 881.9 L1074.2 883.2 L1075.9 884.5 L1077.6 885.8 L1079.4 887 L1081.3 888.2 L1083.2 889.4 L1085.1 890.5 L1087.1 891.6 L1089.1 892.6 L1091.1 893.7 L1093.1 894.6 L1095.2 895.6 L1097.4 896.4 L1099.5 897.3 L1101.7 898.1 L1103.9 898.8 L1106.1 899.5 L1108.3 900.2 L1110.5 900.8 L1112.8 901.4 L1115.1 901.9 L1117.4 902.4 L1119.7 902.8 L1122 903.2 L1124.3 903.5 L1126.6 903.8 L1128.9 904 L1131.2 904.2 L1133.5 904.4 L1135.5 904.2 L1137 903.7 L1138.2 902.9 L1138.9 901.8 L1139.3 900.4 L1139.3 898.7 L1138.9 896.7 L1138.1 894.3 L1137.3 892 L1136.6 889.7 L1135.9 887.3 L1135.2 885 L1134.5 882.7 L1133.8 880.3 L1133.2 878 L1132.5 875.6 L1131.8 873.6 L1131 871.7 L1130 870.2 L1129 868.8 L1127.9 867.8 L1126.6 867 Z"/></clipPath>
<g clip-path="url(#wc4)">
<path d="M1122.8 879.2 L1121.3 878.9 L1119.9 878.6 L1118.4 878.2 L1117.1 877.8 L1115.7 877.3 L1114.3 876.8 L1113 876.2 L1111.7 875.6 L1110.4 874.9 L1109.2 874.2 L1108 873.5 L1106.9 872.7 L1105.8 871.9 L1104.8 871 L1103.8 870.1 L1102.9 869.2 L1102 868.3 L1100.8 867.5 L1099.4 866.9 L1097.7 866.5 L1095.7 866.2 L1093.5 866.1 L1091 866.2 L1088.3 866.5 L1085.3 866.9 L1082.3 867.3 L1079.3 867.7 L1076.2 868.1 L1073.2 868.5 L1070.2 868.8 L1067.1 869.2 L1064.1 869.5 L1061 869.8 L1058.5 870.3 L1056.4 870.9 L1054.9 871.7 L1053.9 872.7 L1053.4 873.8 L1053.4 875.1 L1053.9 876.6 L1055 878.2 L1056.1 879.8 L1057.2 881.4 L1058.4 883 L1059.7 884.5 L1061 886.1 L1062.4 887.6 L1063.8 889 L1065.3 890.5 L1066.8 891.9 L1068.4 893.3 L1070 894.7 L1071.7 896 L1073.4 897.3 L1075.1 898.6 L1077 899.8 L1078.8 901 L1080.7 902.2 L1082.6 903.3 L1084.6 904.4 L1086.6 905.5 L1088.6 906.5 L1090.6 907.4 L1092.7 908.4 L1094.9 909.3 L1097 910.1 L1099.2 910.9 L1101.4 911.6 L1103.6 912.4 L1105.8 913 L1108 913.6 L1110.3 914.2 L1112.6 914.7 L1114.9 915.2 L1117.2 915.6 L1119.5 916 L1121.8 916.3 L1124.1 916.6 L1126.4 916.9 L1128.7 917 L1131.1 917.2 L1133 917 L1134.5 916.5 L1135.7 915.7 L1136.5 914.6 L1136.8 913.2 L1136.8 911.5 L1136.4 909.5 L1135.6 907.2 L1134.8 904.8 L1134.1 902.5 L1133.4 900.2 L1132.7 897.8 L1132 895.5 L1131.3 893.1 L1130.7 890.8 L1130.1 888.4 L1129.3 886.4 L1128.5 884.5 L1127.6 883 L1126.5 881.6 L1125.4 880.6 L1124.1 879.8 Z" stroke-width="2.6"/>
<ellipse cx="1122.35" cy="878.3" rx="26.9" ry="37" transform="rotate(101 1122.35 878.3)" stroke-width="1.6"/>
<ellipse cx="1121.3" cy="883.69" rx="30.17" ry="41.5" transform="rotate(101 1121.3 883.69)" stroke-width="1.8"/>
<ellipse cx="1123.14" cy="874.26" rx="23.99" ry="33" transform="rotate(101 1123.14 874.26)" stroke-width="1.5"/>
</g>
<path d="M1125.2 866.4 L1123.8 866.1 L1122.3 865.8 L1120.9 865.4 L1119.5 865 L1118.2 864.5 L1116.8 864 L1115.5 863.4 L1114.2 862.8 L1112.9 862.1 L1111.7 861.4 L1110.5 860.7 L1109.4 859.9 L1108.3 859.1 L1107.3 858.2 L1106.3 857.3 L1105.3 856.4 L1104.5 855.5 L1103.3 854.7 L1101.9 854.1 L1100.2 853.7 L1098.2 853.4 L1096 853.3 L1093.5 853.4 L1090.8 853.7 L1087.8 854.1 L1084.8 854.5 L1081.8 854.9 L1078.7 855.3 L1075.7 855.7 L1072.7 856 L1069.6 856.4 L1066.6 856.7 L1063.5 857 L1061 857.5 L1058.9 858.1 L1057.4 858.9 L1056.4 859.9 L1055.9 861 L1055.9 862.3 L1056.4 863.8 L1057.5 865.4 L1058.5 867 L1059.7 868.6 L1060.9 870.2 L1062.2 871.7 L1063.5 873.2 L1064.8 874.8 L1066.3 876.2 L1067.8 877.7 L1069.3 879.1 L1070.9 880.5 L1072.5 881.9 L1074.2 883.2 L1075.9 884.5 L1077.6 885.8 L1079.4 887 L1081.3 888.2 L1083.2 889.4 L1085.1 890.5 L1087.1 891.6 L1089.1 892.6 L1091.1 893.7 L1093.1 894.6 L1095.2 895.6 L1097.4 896.4 L1099.5 897.3 L1101.7 898.1 L1103.9 898.8 L1106.1 899.5 L1108.3 900.2 L1110.5 900.8 L1112.8 901.4 L1115.1 901.9 L1117.4 902.4 L1119.7 902.8 L1122 903.2 L1124.3 903.5 L1126.6 903.8 L1128.9 904 L1131.2 904.2 L1133.5 904.4 L1135.5 904.2 L1137 903.7 L1138.2 902.9 L1138.9 901.8 L1139.3 900.4 L1139.3 898.7 L1138.9 896.7 L1138.1 894.3 L1137.3 892 L1136.6 889.7 L1135.9 887.3 L1135.2 885 L1134.5 882.7 L1133.8 880.3 L1133.2 878 L1132.5 875.6 L1131.8 873.6 L1131 871.7 L1130 870.2 L1129 868.8 L1127.9 867.8 L1126.6 867 Z" stroke-width="1.9"/>
<ellipse cx="1128.9" cy="844.6" rx="19.27" ry="26.5" transform="rotate(101 1128.9 844.6)" stroke-width="2.2" fill="#fff"/>
<ellipse cx="1129.1" cy="843.59" rx="16.36" ry="22.5" transform="rotate(101 1129.1 843.59)" stroke-width="1.6"/>
<ellipse cx="1130.52" cy="836.26" rx="9.81" ry="13.5" transform="rotate(101 1130.52 836.26)" stroke-width="2" fill="#fff"/>
<ellipse cx="1130.71" cy="835.27" rx="6.91" ry="9.5" transform="rotate(101 1130.71 835.27)" stroke-width="1.6"/>
<ellipse cx="1130.81" cy="834.78" rx="3.63" ry="5" transform="rotate(101 1130.81 834.78)" stroke-width="1.8"/>
<path d="M358.2 1510.7 A80.5 80.5 0 0 1 433.9 1457.3" stroke-width="2.8"/>
<path d="M373.2 1592.2 A80.5 80.5 0 0 0 402 1611.8" stroke-width="2.8"/>
<line x1="232.5" y1="1533.6" x2="392.3" y2="1505.3"/>
<line x1="246" y1="1615.3" x2="402.5" y2="1587.2"/>
<path d="M330.8 1516.4 C352 1525 361 1545 359.9 1561.4 C359 1578 353 1590 344.1 1597.4"/>
<path d="M392.3 1505.5 C378 1514 368 1529 368.2 1543.1 C368.5 1560 381 1576 402.5 1583.4"/>
<path d="M433.9 1486.6 A51.2 51.2 0 0 0 402.8 1578.6"/>
<path d="M155.49 1499.93 L175.25 1496.45 A54.75 87.6 -10 0 1 205.67 1668.99 L185.91 1672.47 A54.75 87.6 -10 0 1 155.49 1499.93 Z" fill="#fff" stroke="none"/>
<path d="M186.9 1496.4L209 1506.7 M173.2 1496.8L221.4 1519.3 M162.6 1498.7L164.3 1499.5 M191.6 1512.3L228.4 1529.4 M202.6 1524.2L233.2 1538.5 M209.2 1534.2L237 1547.1 M214 1543.2L240 1555.3 M217.6 1551.7L242.2 1563.2 M220.4 1559.9L243.8 1570.8 M222.7 1567.8L245.1 1578.3 M224.2 1575.4L246 1585.5 M225.4 1582.7L246.2 1592.5 M226.2 1590L246.3 1599.4 M226.5 1596.9L246.1 1606.1 M226.6 1603.8L245.5 1612.6 M226.2 1610.5L244.5 1619 M225.5 1617L243.1 1625.2 M224.5 1623.4L241.4 1631.3 M223 1629.5L239.1 1637 M221.3 1635.6L236.7 1642.7 M219.2 1641.4L233.5 1648.1 M216.6 1647.1L230 1653.3 M213.4 1652.4L225.8 1658.2 M209.7 1657.5L220.4 1662.5 M205.3 1662.3L214 1666.4 M200 1666.7L205 1669 M193.2 1670.3L194.4 1670.9 M244.9 1616.8L225.4 1658.4 M246.4 1598.7L215.2 1665.8 M245.9 1585.2L207 1668.6 M244.4 1573.7L225.9 1613.4 M201.6 1665.4L199.5 1670 M242.3 1563.7L226.5 1597.4 M192.4 1670.6L192.1 1671.3 M239.7 1554.5L225.7 1584.6 M236.7 1546.3L223.9 1573.7 M233.3 1538.8L221.6 1564 M229.8 1531.8L218.9 1555.2 M225.8 1525.6L215.8 1547.1 M221.7 1519.7L212.3 1539.8 M217.3 1514.5L208.7 1533 M212.6 1509.9L204.7 1526.9 M207.7 1505.8L200.4 1521.4 M202.5 1502.3L196 1516.3 M196.9 1499.5L191.2 1511.8 M191.1 1497.4L186.2 1507.9 M184.8 1496.3L180.9 1504.6 M178 1496.2L175.3 1502 M170.6 1497.4L169.2 1500.3 M163.1 1498.7L162.7 1499.5" stroke-width="1.6"/>
<path d="M155.49 1499.93 L175.25 1496.45 A54.75 87.6 -10 0 1 205.67 1668.99 L185.91 1672.47" stroke-width="3.3"/>
<ellipse cx="170.7" cy="1586.2" rx="54.75" ry="87.6" transform="rotate(-10 170.7 1586.2)" stroke-width="3.3" fill="#fff"/>
<ellipse cx="170.7" cy="1586.2" rx="50.12" ry="80.2" transform="rotate(-10 170.7 1586.2)" stroke-width="2"/>
<clipPath id="wc5"><path d="M175.7 1615.8 L174.5 1616 L173.3 1616 L172.1 1615.9 L171 1615.7 L169.8 1615.3 L168.6 1614.9 L167.4 1614.3 L166.2 1613.6 L165.1 1612.8 L163.9 1612 L162.8 1611 L161.7 1609.9 L160.7 1608.8 L159.7 1607.5 L158.8 1606.2 L157.8 1604.8 L157 1603.3 L156 1602 L154.9 1601.1 L153.6 1600.4 L152.3 1600 L150.8 1599.9 L149.2 1600.1 L147.5 1600.5 L145.7 1601.3 L143.9 1602 L142.1 1602.7 L140.2 1603.3 L138.4 1604 L136.5 1604.6 L134.7 1605.2 L132.8 1605.8 L131 1606.4 L129.4 1607.1 L128.2 1608.1 L127.3 1609.2 L126.8 1610.4 L126.5 1611.9 L126.6 1613.5 L127 1615.3 L127.7 1617.2 L128.5 1619.2 L129.3 1621.1 L130.1 1623 L130.9 1624.8 L131.8 1626.6 L132.7 1628.4 L133.6 1630.2 L134.5 1632 L135.5 1633.7 L136.5 1635.3 L137.5 1637 L138.6 1638.6 L139.7 1640.1 L140.8 1641.7 L141.9 1643.2 L143 1644.6 L144.2 1646 L145.3 1647.4 L146.5 1648.7 L147.7 1650 L149 1651.2 L150.2 1652.4 L151.5 1653.5 L152.7 1654.6 L154 1655.6 L155.3 1656.6 L156.6 1657.5 L157.9 1658.4 L159.3 1659.2 L160.6 1660 L161.9 1660.8 L163.3 1661.4 L164.7 1662 L166 1662.6 L167.4 1663.1 L168.7 1663.6 L170.1 1664 L171.5 1664.3 L172.8 1664.6 L174.2 1664.8 L175.6 1665 L176.9 1665.1 L178.3 1665.2 L179.6 1665.2 L180.9 1665.2 L182.3 1665.1 L183.6 1664.9 L184.9 1664.7 L186.2 1664.4 L187.5 1664.1 L188.8 1663.7 L190.1 1663.2 L191.3 1662.7 L192.6 1662.2 L193.8 1661.6 L195 1660.9 L195.9 1660 L196.5 1658.8 L196.8 1657.4 L196.8 1655.8 L196.4 1653.8 L195.8 1651.7 L194.9 1649.3 L193.6 1646.6 L192.4 1643.9 L191.1 1641.3 L189.9 1638.6 L188.7 1635.9 L187.5 1633.2 L186.3 1630.4 L185.1 1627.7 L184 1625 L182.8 1622.6 L181.6 1620.6 L180.4 1618.9 L179.3 1617.6 L178.1 1616.7 L176.9 1616.1 Z"/></clipPath>
<g clip-path="url(#wc5)">
<path d="M190.3 1613.3 L189.1 1613.4 L187.9 1613.4 L186.8 1613.3 L185.6 1613.1 L184.4 1612.7 L183.2 1612.3 L182 1611.7 L180.8 1611.1 L179.7 1610.3 L178.5 1609.4 L177.4 1608.4 L176.4 1607.4 L175.3 1606.2 L174.3 1605 L173.4 1603.6 L172.5 1602.2 L171.6 1600.7 L170.6 1599.5 L169.5 1598.5 L168.2 1597.8 L166.9 1597.4 L165.4 1597.3 L163.8 1597.5 L162.1 1597.9 L160.3 1598.7 L158.5 1599.4 L156.7 1600.1 L154.8 1600.8 L153 1601.4 L151.1 1602 L149.3 1602.7 L147.4 1603.2 L145.6 1603.8 L144.1 1604.6 L142.8 1605.5 L141.9 1606.6 L141.4 1607.8 L141.1 1609.3 L141.2 1610.9 L141.6 1612.7 L142.3 1614.7 L143.1 1616.6 L143.9 1618.5 L144.7 1620.4 L145.5 1622.2 L146.4 1624.1 L147.3 1625.9 L148.2 1627.6 L149.2 1629.4 L150.1 1631.1 L151.1 1632.8 L152.2 1634.4 L153.2 1636 L154.3 1637.6 L155.4 1639.1 L156.5 1640.6 L157.6 1642 L158.8 1643.4 L160 1644.8 L161.1 1646.1 L162.4 1647.4 L163.6 1648.6 L164.8 1649.8 L166.1 1650.9 L167.4 1652 L168.6 1653 L169.9 1654 L171.2 1655 L172.6 1655.8 L173.9 1656.7 L175.2 1657.4 L176.6 1658.2 L177.9 1658.9 L179.3 1659.5 L180.6 1660 L182 1660.5 L183.3 1661 L184.7 1661.4 L186.1 1661.7 L187.4 1662 L188.8 1662.3 L190.2 1662.4 L191.5 1662.6 L192.9 1662.6 L194.2 1662.6 L195.5 1662.6 L196.9 1662.5 L198.2 1662.3 L199.5 1662.1 L200.8 1661.8 L202.1 1661.5 L203.4 1661.1 L204.7 1660.7 L205.9 1660.2 L207.2 1659.6 L208.4 1659 L209.6 1658.3 L210.5 1657.4 L211.1 1656.3 L211.4 1654.8 L211.4 1653.2 L211.1 1651.3 L210.4 1649.1 L209.5 1646.7 L208.2 1644 L207 1641.4 L205.7 1638.7 L204.5 1636 L203.3 1633.3 L202.1 1630.6 L200.9 1627.9 L199.7 1625.1 L198.6 1622.4 L197.4 1620 L196.2 1618 L195 1616.3 L193.9 1615 L192.7 1614.1 L191.5 1613.5 Z" stroke-width="2.6"/>
<ellipse cx="209.14" cy="1579.42" rx="23.12" ry="37" transform="rotate(-10 209.14 1579.42)" stroke-width="1.6"/>
<ellipse cx="215.29" cy="1578.34" rx="25.94" ry="41.5" transform="rotate(-10 215.29 1578.34)" stroke-width="1.8"/>
<ellipse cx="204.53" cy="1580.24" rx="20.62" ry="33" transform="rotate(-10 204.53 1580.24)" stroke-width="1.5"/>
</g>
<path d="M175.7 1615.8 L174.5 1616 L173.3 1616 L172.1 1615.9 L171 1615.7 L169.8 1615.3 L168.6 1614.9 L167.4 1614.3 L166.2 1613.6 L165.1 1612.8 L163.9 1612 L162.8 1611 L161.7 1609.9 L160.7 1608.8 L159.7 1607.5 L158.8 1606.2 L157.8 1604.8 L157 1603.3 L156 1602 L154.9 1601.1 L153.6 1600.4 L152.3 1600 L150.8 1599.9 L149.2 1600.1 L147.5 1600.5 L145.7 1601.3 L143.9 1602 L142.1 1602.7 L140.2 1603.3 L138.4 1604 L136.5 1604.6 L134.7 1605.2 L132.8 1605.8 L131 1606.4 L129.4 1607.1 L128.2 1608.1 L127.3 1609.2 L126.8 1610.4 L126.5 1611.9 L126.6 1613.5 L127 1615.3 L127.7 1617.2 L128.5 1619.2 L129.3 1621.1 L130.1 1623 L130.9 1624.8 L131.8 1626.6 L132.7 1628.4 L133.6 1630.2 L134.5 1632 L135.5 1633.7 L136.5 1635.3 L137.5 1637 L138.6 1638.6 L139.7 1640.1 L140.8 1641.7 L141.9 1643.2 L143 1644.6 L144.2 1646 L145.3 1647.4 L146.5 1648.7 L147.7 1650 L149 1651.2 L150.2 1652.4 L151.5 1653.5 L152.7 1654.6 L154 1655.6 L155.3 1656.6 L156.6 1657.5 L157.9 1658.4 L159.3 1659.2 L160.6 1660 L161.9 1660.8 L163.3 1661.4 L164.7 1662 L166 1662.6 L167.4 1663.1 L168.7 1663.6 L170.1 1664 L171.5 1664.3 L172.8 1664.6 L174.2 1664.8 L175.6 1665 L176.9 1665.1 L178.3 1665.2 L179.6 1665.2 L180.9 1665.2 L182.3 1665.1 L183.6 1664.9 L184.9 1664.7 L186.2 1664.4 L187.5 1664.1 L188.8 1663.7 L190.1 1663.2 L191.3 1662.7 L192.6 1662.2 L193.8 1661.6 L195 1660.9 L195.9 1660 L196.5 1658.8 L196.8 1657.4 L196.8 1655.8 L196.4 1653.8 L195.8 1651.7 L194.9 1649.3 L193.6 1646.6 L192.4 1643.9 L191.1 1641.3 L189.9 1638.6 L188.7 1635.9 L187.5 1633.2 L186.3 1630.4 L185.1 1627.7 L184 1625 L182.8 1622.6 L181.6 1620.6 L180.4 1618.9 L179.3 1617.6 L178.1 1616.7 L176.9 1616.1 Z" stroke-width="1.9"/>
<clipPath id="wc6"><path d="M151.3 1582 L151.3 1580.5 L151.3 1579 L151.4 1577.5 L151.6 1576.1 L151.8 1574.7 L152 1573.3 L152.3 1571.9 L152.7 1570.6 L153.1 1569.3 L153.5 1568 L154 1566.9 L154.5 1565.7 L155 1564.6 L155.6 1563.6 L156.3 1562.6 L157 1561.7 L157.7 1560.9 L158.2 1559.7 L158.6 1558.3 L158.7 1556.7 L158.7 1554.8 L158.5 1552.6 L158.1 1550.1 L157.5 1547.4 L156.7 1544.4 L155.9 1541.4 L155.2 1538.5 L154.4 1535.5 L153.7 1532.5 L153 1529.5 L152.2 1526.5 L151.5 1523.5 L150.9 1520.4 L150.1 1517.9 L149.3 1515.9 L148.4 1514.4 L147.4 1513.3 L146.3 1512.8 L145.2 1512.7 L144 1513.1 L142.7 1514.1 L141.4 1515.1 L140.2 1516.1 L139 1517.2 L137.8 1518.4 L136.7 1519.6 L135.5 1520.9 L134.5 1522.3 L133.4 1523.7 L132.4 1525.2 L131.4 1526.7 L130.4 1528.3 L129.5 1529.9 L128.7 1531.5 L127.8 1533.3 L127 1535 L126.3 1536.9 L125.5 1538.7 L124.8 1540.6 L124.2 1542.6 L123.6 1544.6 L123.1 1546.6 L122.5 1548.6 L122.1 1550.7 L121.6 1552.8 L121.2 1555 L120.9 1557.2 L120.6 1559.4 L120.4 1561.6 L120.1 1563.8 L120 1566.1 L119.9 1568.4 L119.8 1570.7 L119.8 1573 L119.8 1575.4 L119.9 1577.7 L120 1580 L120.1 1582.4 L120.3 1584.7 L120.6 1587.1 L120.9 1589.5 L121.3 1591.4 L122 1593 L122.9 1594.2 L123.9 1595.1 L125.2 1595.5 L126.6 1595.5 L128.2 1595.2 L130.1 1594.4 L131.9 1593.7 L133.7 1593 L135.5 1592.4 L137.4 1591.7 L139.2 1591.1 L141.1 1590.5 L142.9 1589.9 L144.8 1589.3 L146.4 1588.6 L147.8 1587.8 L149 1586.9 L149.9 1585.8 L150.6 1584.7 L151 1583.4 Z"/></clipPath>
<g clip-path="url(#wc6)">
<path d="M165.9 1579.4 L165.9 1577.9 L165.9 1576.4 L166 1574.9 L166.2 1573.5 L166.4 1572.1 L166.6 1570.7 L166.9 1569.3 L167.3 1568 L167.7 1566.7 L168.1 1565.5 L168.6 1564.3 L169.1 1563.1 L169.6 1562.1 L170.2 1561 L170.9 1560.1 L171.6 1559.1 L172.3 1558.3 L172.8 1557.1 L173.2 1555.8 L173.3 1554.1 L173.3 1552.2 L173.1 1550 L172.7 1547.5 L172.1 1544.8 L171.3 1541.9 L170.5 1538.9 L169.8 1535.9 L169 1532.9 L168.3 1529.9 L167.6 1526.9 L166.8 1523.9 L166.2 1520.9 L165.5 1517.9 L164.7 1515.4 L163.9 1513.3 L163 1511.8 L162 1510.7 L160.9 1510.2 L159.8 1510.1 L158.6 1510.6 L157.3 1511.5 L156 1512.5 L154.8 1513.5 L153.6 1514.7 L152.4 1515.8 L151.3 1517.1 L150.2 1518.4 L149.1 1519.7 L148 1521.1 L147 1522.6 L146 1524.1 L145.1 1525.7 L144.1 1527.3 L143.3 1529 L142.4 1530.7 L141.6 1532.5 L140.9 1534.3 L140.1 1536.2 L139.5 1538.1 L138.8 1540 L138.2 1542 L137.7 1544 L137.1 1546 L136.7 1548.1 L136.2 1550.3 L135.9 1552.4 L135.5 1554.6 L135.2 1556.8 L135 1559 L134.8 1561.3 L134.6 1563.5 L134.5 1565.8 L134.4 1568.1 L134.4 1570.5 L134.4 1572.8 L134.5 1575.1 L134.6 1577.5 L134.7 1579.8 L134.9 1582.2 L135.2 1584.5 L135.5 1586.9 L135.9 1588.9 L136.6 1590.5 L137.5 1591.7 L138.5 1592.5 L139.8 1592.9 L141.2 1593 L142.8 1592.6 L144.7 1591.9 L146.5 1591.2 L148.3 1590.5 L150.1 1589.8 L152 1589.1 L153.8 1588.5 L155.7 1587.9 L157.5 1587.3 L159.4 1586.7 L161 1586 L162.4 1585.2 L163.6 1584.3 L164.5 1583.3 L165.2 1582.1 L165.7 1580.8 Z" stroke-width="2.6"/>
<ellipse cx="209.14" cy="1579.42" rx="23.12" ry="37" transform="rotate(-10 209.14 1579.42)" stroke-width="1.6"/>
<ellipse cx="215.29" cy="1578.34" rx="25.94" ry="41.5" transform="rotate(-10 215.29 1578.34)" stroke-width="1.8"/>
<ellipse cx="204.53" cy="1580.24" rx="20.62" ry="33" transform="rotate(-10 204.53 1580.24)" stroke-width="1.5"/>
</g>
<path d="M151.3 1582 L151.3 1580.5 L151.3 1579 L151.4 1577.5 L151.6 1576.1 L151.8 1574.7 L152 1573.3 L152.3 1571.9 L152.7 1570.6 L153.1 1569.3 L153.5 1568 L154 1566.9 L154.5 1565.7 L155 1564.6 L155.6 1563.6 L156.3 1562.6 L157 1561.7 L157.7 1560.9 L158.2 1559.7 L158.6 1558.3 L158.7 1556.7 L158.7 1554.8 L158.5 1552.6 L158.1 1550.1 L157.5 1547.4 L156.7 1544.4 L155.9 1541.4 L155.2 1538.5 L154.4 1535.5 L153.7 1532.5 L153 1529.5 L152.2 1526.5 L151.5 1523.5 L150.9 1520.4 L150.1 1517.9 L149.3 1515.9 L148.4 1514.4 L147.4 1513.3 L146.3 1512.8 L145.2 1512.7 L144 1513.1 L142.7 1514.1 L141.4 1515.1 L140.2 1516.1 L139 1517.2 L137.8 1518.4 L136.7 1519.6 L135.5 1520.9 L134.5 1522.3 L133.4 1523.7 L132.4 1525.2 L131.4 1526.7 L130.4 1528.3 L129.5 1529.9 L128.7 1531.5 L127.8 1533.3 L127 1535 L126.3 1536.9 L125.5 1538.7 L124.8 1540.6 L124.2 1542.6 L123.6 1544.6 L123.1 1546.6 L122.5 1548.6 L122.1 1550.7 L121.6 1552.8 L121.2 1555 L120.9 1557.2 L120.6 1559.4 L120.4 1561.6 L120.1 1563.8 L120 1566.1 L119.9 1568.4 L119.8 1570.7 L119.8 1573 L119.8 1575.4 L119.9 1577.7 L120 1580 L120.1 1582.4 L120.3 1584.7 L120.6 1587.1 L120.9 1589.5 L121.3 1591.4 L122 1593 L122.9 1594.2 L123.9 1595.1 L125.2 1595.5 L126.6 1595.5 L128.2 1595.2 L130.1 1594.4 L131.9 1593.7 L133.7 1593 L135.5 1592.4 L137.4 1591.7 L139.2 1591.1 L141.1 1590.5 L142.9 1589.9 L144.8 1589.3 L146.4 1588.6 L147.8 1587.8 L149 1586.9 L149.9 1585.8 L150.6 1584.7 L151 1583.4 Z" stroke-width="1.9"/>
<clipPath id="wc7"><path d="M170.1 1556.3 L171.1 1556.6 L172 1556.9 L173 1557.3 L173.9 1557.7 L174.9 1558.2 L175.8 1558.8 L176.7 1559.5 L177.6 1560.2 L178.5 1561 L179.4 1561.8 L180.2 1562.7 L181 1563.7 L181.8 1564.7 L182.6 1565.7 L183.3 1566.8 L184 1568 L184.7 1569.2 L185.6 1570.2 L186.5 1570.9 L187.6 1571.3 L188.9 1571.5 L190.2 1571.4 L191.8 1571.1 L193.4 1570.5 L195.2 1569.7 L197 1568.9 L198.8 1568.1 L200.6 1567.3 L202.4 1566.5 L204.2 1565.8 L206 1565.1 L207.9 1564.4 L209.7 1563.7 L211.2 1562.9 L212.4 1561.8 L213.2 1560.6 L213.7 1559.2 L213.9 1557.7 L213.7 1555.9 L213.2 1554 L212.3 1551.9 L211.5 1549.9 L210.5 1547.8 L209.6 1545.8 L208.6 1543.9 L207.6 1542 L206.6 1540.1 L205.5 1538.2 L204.4 1536.4 L203.3 1534.7 L202.1 1532.9 L201 1531.3 L199.8 1529.6 L198.5 1528.1 L197.3 1526.5 L196 1525.1 L194.7 1523.6 L193.4 1522.2 L192 1520.9 L190.7 1519.7 L189.3 1518.5 L187.9 1517.3 L186.5 1516.2 L185.1 1515.2 L183.7 1514.2 L182.2 1513.3 L180.8 1512.4 L179.3 1511.7 L177.8 1510.9 L176.4 1510.3 L174.9 1509.7 L173.4 1509.1 L171.9 1508.7 L170.4 1508.3 L169 1507.9 L167.5 1507.7 L166 1507.5 L164.5 1507.3 L163.1 1507.3 L161.6 1507.3 L160.1 1507.3 L158.9 1507.8 L158 1508.6 L157.4 1509.7 L157.1 1511.3 L157 1513.1 L157.2 1515.4 L157.7 1518 L158.5 1521 L159.3 1524 L160.1 1527 L160.8 1529.9 L161.5 1532.9 L162.3 1535.9 L163 1538.9 L163.7 1542 L164.3 1545 L165.1 1547.6 L165.8 1549.9 L166.6 1551.9 L167.4 1553.5 L168.3 1554.8 L169.2 1555.8 Z"/></clipPath>
<g clip-path="url(#wc7)">
<path d="M184.7 1553.8 L185.7 1554 L186.7 1554.3 L187.6 1554.7 L188.5 1555.1 L189.5 1555.7 L190.4 1556.2 L191.3 1556.9 L192.2 1557.6 L193.1 1558.4 L194 1559.2 L194.8 1560.1 L195.6 1561.1 L196.4 1562.1 L197.2 1563.1 L197.9 1564.2 L198.7 1565.4 L199.3 1566.6 L200.2 1567.6 L201.1 1568.3 L202.2 1568.7 L203.5 1568.9 L204.8 1568.9 L206.4 1568.5 L208 1568 L209.8 1567.1 L211.6 1566.3 L213.4 1565.5 L215.2 1564.7 L217 1564 L218.8 1563.2 L220.6 1562.5 L222.5 1561.8 L224.3 1561.1 L225.8 1560.3 L227 1559.3 L227.8 1558.1 L228.3 1556.7 L228.5 1555.1 L228.3 1553.4 L227.8 1551.4 L226.9 1549.3 L226.1 1547.3 L225.2 1545.3 L224.2 1543.3 L223.2 1541.3 L222.2 1539.4 L221.2 1537.5 L220.1 1535.7 L219 1533.9 L217.9 1532.1 L216.7 1530.4 L215.6 1528.7 L214.4 1527.1 L213.1 1525.5 L211.9 1524 L210.6 1522.5 L209.3 1521 L208 1519.7 L206.6 1518.4 L205.3 1517.1 L203.9 1515.9 L202.5 1514.7 L201.1 1513.6 L199.7 1512.6 L198.3 1511.6 L196.8 1510.7 L195.4 1509.9 L193.9 1509.1 L192.4 1508.4 L191 1507.7 L189.5 1507.1 L188 1506.6 L186.5 1506.1 L185 1505.7 L183.6 1505.4 L182.1 1505.1 L180.6 1504.9 L179.1 1504.8 L177.7 1504.7 L176.2 1504.7 L174.7 1504.8 L173.5 1505.2 L172.6 1506 L172 1507.2 L171.7 1508.7 L171.6 1510.6 L171.8 1512.8 L172.3 1515.4 L173.1 1518.4 L173.9 1521.4 L174.7 1524.4 L175.4 1527.4 L176.1 1530.4 L176.9 1533.4 L177.6 1536.4 L178.3 1539.4 L178.9 1542.4 L179.7 1545.1 L180.4 1547.4 L181.2 1549.3 L182 1551 L182.9 1552.3 L183.8 1553.2 Z" stroke-width="2.6"/>
<ellipse cx="209.14" cy="1579.42" rx="23.12" ry="37" transform="rotate(-10 209.14 1579.42)" stroke-width="1.6"/>
<ellipse cx="215.29" cy="1578.34" rx="25.94" ry="41.5" transform="rotate(-10 215.29 1578.34)" stroke-width="1.8"/>
<ellipse cx="204.53" cy="1580.24" rx="20.62" ry="33" transform="rotate(-10 204.53 1580.24)" stroke-width="1.5"/>
</g>
<path d="M170.1 1556.3 L171.1 1556.6 L172 1556.9 L173 1557.3 L173.9 1557.7 L174.9 1558.2 L175.8 1558.8 L176.7 1559.5 L177.6 1560.2 L178.5 1561 L179.4 1561.8 L180.2 1562.7 L181 1563.7 L181.8 1564.7 L182.6 1565.7 L183.3 1566.8 L184 1568 L184.7 1569.2 L185.6 1570.2 L186.5 1570.9 L187.6 1571.3 L188.9 1571.5 L190.2 1571.4 L191.8 1571.1 L193.4 1570.5 L195.2 1569.7 L197 1568.9 L198.8 1568.1 L200.6 1567.3 L202.4 1566.5 L204.2 1565.8 L206 1565.1 L207.9 1564.4 L209.7 1563.7 L211.2 1562.9 L212.4 1561.8 L213.2 1560.6 L213.7 1559.2 L213.9 1557.7 L213.7 1555.9 L213.2 1554 L212.3 1551.9 L211.5 1549.9 L210.5 1547.8 L209.6 1545.8 L208.6 1543.9 L207.6 1542 L206.6 1540.1 L205.5 1538.2 L204.4 1536.4 L203.3 1534.7 L202.1 1532.9 L201 1531.3 L199.8 1529.6 L198.5 1528.1 L197.3 1526.5 L196 1525.1 L194.7 1523.6 L193.4 1522.2 L192 1520.9 L190.7 1519.7 L189.3 1518.5 L187.9 1517.3 L186.5 1516.2 L185.1 1515.2 L183.7 1514.2 L182.2 1513.3 L180.8 1512.4 L179.3 1511.7 L177.8 1510.9 L176.4 1510.3 L174.9 1509.7 L173.4 1509.1 L171.9 1508.7 L170.4 1508.3 L169 1507.9 L167.5 1507.7 L166 1507.5 L164.5 1507.3 L163.1 1507.3 L161.6 1507.3 L160.1 1507.3 L158.9 1507.8 L158 1508.6 L157.4 1509.7 L157.1 1511.3 L157 1513.1 L157.2 1515.4 L157.7 1518 L158.5 1521 L159.3 1524 L160.1 1527 L160.8 1529.9 L161.5 1532.9 L162.3 1535.9 L163 1538.9 L163.7 1542 L164.3 1545 L165.1 1547.6 L165.8 1549.9 L166.6 1551.9 L167.4 1553.5 L168.3 1554.8 L169.2 1555.8 Z" stroke-width="1.9"/>
<clipPath id="wc8"><path d="M189.9 1590.4 L189.9 1592.2 L189.9 1594 L189.7 1595.7 L189.5 1597.4 L189.2 1599 L188.9 1600.6 L188.4 1602.2 L188 1603.7 L187.4 1605.1 L187.1 1606.7 L186.9 1608.5 L187.1 1610.4 L187.4 1612.5 L188 1614.7 L188.8 1617 L189.8 1619.5 L191.1 1622.2 L192.3 1624.9 L193.5 1627.6 L194.8 1630.2 L196 1632.9 L197.2 1635.7 L198.4 1638.4 L199.5 1641.1 L200.7 1643.8 L201.9 1646 L203 1647.7 L204.1 1648.9 L205.2 1649.5 L206.3 1649.6 L207.3 1649.2 L208.3 1648.2 L209.3 1646.7 L210.3 1645.2 L211.3 1643.6 L212.1 1642 L213 1640.3 L213.8 1638.6 L214.6 1636.8 L215.4 1635 L216.1 1633.1 L216.7 1631.2 L217.4 1629.3 L218 1627.3 L218.5 1625.3 L219 1623.2 L219.5 1621.1 L219.9 1619 L220.2 1616.8 L220.6 1614.7 L220.9 1612.5 L221.1 1610.3 L221.3 1608 L221.4 1605.8 L221.6 1603.5 L221.6 1601.2 L221.6 1598.9 L221.6 1596.5 L221.5 1594.2 L221.4 1591.9 L221.3 1589.5 L221 1587.2 L220.8 1584.8 L220.5 1582.5 L220.1 1580.1 L219.6 1578.2 L218.9 1576.6 L218 1575.5 L217 1574.7 L215.7 1574.4 L214.3 1574.4 L212.7 1574.8 L210.9 1575.7 L209.1 1576.5 L207.3 1577.3 L205.5 1578.1 L203.7 1578.8 L201.9 1579.6 L200 1580.3 L198.2 1581 L196.4 1581.7 L194.8 1582.5 L193.4 1583.4 L192.3 1584.5 L191.3 1585.8 L190.6 1587.2 L190.2 1588.7 Z"/></clipPath>
<g clip-path="url(#wc8)">
<path d="M204.6 1587.8 L204.5 1589.6 L204.5 1591.4 L204.3 1593.1 L204.1 1594.8 L203.8 1596.4 L203.5 1598 L203.1 1599.6 L202.6 1601.1 L202 1602.5 L201.7 1604.2 L201.6 1605.9 L201.7 1607.8 L202 1609.9 L202.6 1612.1 L203.4 1614.5 L204.4 1617 L205.7 1619.6 L206.9 1622.3 L208.2 1625 L209.4 1627.7 L210.6 1630.4 L211.8 1633.1 L213 1635.8 L214.2 1638.5 L215.3 1641.3 L216.5 1643.5 L217.6 1645.2 L218.7 1646.3 L219.8 1646.9 L220.9 1647 L221.9 1646.6 L222.9 1645.7 L224 1644.2 L224.9 1642.6 L225.9 1641.1 L226.8 1639.4 L227.6 1637.7 L228.4 1636 L229.2 1634.2 L230 1632.4 L230.7 1630.5 L231.4 1628.6 L232 1626.7 L232.6 1624.7 L233.1 1622.7 L233.6 1620.6 L234.1 1618.6 L234.5 1616.4 L234.9 1614.3 L235.2 1612.1 L235.5 1609.9 L235.7 1607.7 L235.9 1605.4 L236.1 1603.2 L236.2 1600.9 L236.2 1598.6 L236.2 1596.3 L236.2 1594 L236.1 1591.6 L236 1589.3 L235.9 1587 L235.6 1584.6 L235.4 1582.3 L235.1 1579.9 L234.8 1577.6 L234.2 1575.6 L233.5 1574.1 L232.6 1572.9 L231.6 1572.1 L230.3 1571.8 L228.9 1571.8 L227.3 1572.3 L225.5 1573.1 L223.7 1573.9 L221.9 1574.7 L220.1 1575.5 L218.3 1576.3 L216.5 1577 L214.7 1577.7 L212.8 1578.4 L211 1579.1 L209.4 1579.9 L208 1580.9 L206.9 1582 L205.9 1583.2 L205.3 1584.6 L204.8 1586.1 Z" stroke-width="2.6"/>
<ellipse cx="209.14" cy="1579.42" rx="23.12" ry="37" transform="rotate(-10 209.14 1579.42)" stroke-width="1.6"/>
<ellipse cx="215.29" cy="1578.34" rx="25.94" ry="41.5" transform="rotate(-10 215.29 1578.34)" stroke-width="1.8"/>
<ellipse cx="204.53" cy="1580.24" rx="20.62" ry="33" transform="rotate(-10 204.53 1580.24)" stroke-width="1.5"/>
</g>
<path d="M189.9 1590.4 L189.9 1592.2 L189.9 1594 L189.7 1595.7 L189.5 1597.4 L189.2 1599 L188.9 1600.6 L188.4 1602.2 L188 1603.7 L187.4 1605.1 L187.1 1606.7 L186.9 1608.5 L187.1 1610.4 L187.4 1612.5 L188 1614.7 L188.8 1617 L189.8 1619.5 L191.1 1622.2 L192.3 1624.9 L193.5 1627.6 L194.8 1630.2 L196 1632.9 L197.2 1635.7 L198.4 1638.4 L199.5 1641.1 L200.7 1643.8 L201.9 1646 L203 1647.7 L204.1 1648.9 L205.2 1649.5 L206.3 1649.6 L207.3 1649.2 L208.3 1648.2 L209.3 1646.7 L210.3 1645.2 L211.3 1643.6 L212.1 1642 L213 1640.3 L213.8 1638.6 L214.6 1636.8 L215.4 1635 L216.1 1633.1 L216.7 1631.2 L217.4 1629.3 L218 1627.3 L218.5 1625.3 L219 1623.2 L219.5 1621.1 L219.9 1619 L220.2 1616.8 L220.6 1614.7 L220.9 1612.5 L221.1 1610.3 L221.3 1608 L221.4 1605.8 L221.6 1603.5 L221.6 1601.2 L221.6 1598.9 L221.6 1596.5 L221.5 1594.2 L221.4 1591.9 L221.3 1589.5 L221 1587.2 L220.8 1584.8 L220.5 1582.5 L220.1 1580.1 L219.6 1578.2 L218.9 1576.6 L218 1575.5 L217 1574.7 L215.7 1574.4 L214.3 1574.4 L212.7 1574.8 L210.9 1575.7 L209.1 1576.5 L207.3 1577.3 L205.5 1578.1 L203.7 1578.8 L201.9 1579.6 L200 1580.3 L198.2 1581 L196.4 1581.7 L194.8 1582.5 L193.4 1583.4 L192.3 1584.5 L191.3 1585.8 L190.6 1587.2 L190.2 1588.7 Z" stroke-width="1.9"/>
<ellipse cx="170.7" cy="1586.2" rx="16.56" ry="26.5" transform="rotate(-10 170.7 1586.2)" stroke-width="2.2" fill="#fff"/>
<ellipse cx="169.55" cy="1586.4" rx="14.06" ry="22.5" transform="rotate(-10 169.55 1586.4)" stroke-width="1.6"/>
<ellipse cx="163.31" cy="1587.5" rx="8.44" ry="13.5" transform="rotate(-10 163.31 1587.5)" stroke-width="2" fill="#fff"/>
<ellipse cx="162.33" cy="1587.68" rx="5.94" ry="9.5" transform="rotate(-10 162.33 1587.68)" stroke-width="1.6"/>
<ellipse cx="161.84" cy="1587.76" rx="3.12" ry="5" transform="rotate(-10 161.84 1587.76)" stroke-width="1.8"/>
<g transform="translate(867.8 0) scale(-1 1)">
<path d="M358.2 1510.7 A80.5 80.5 0 0 1 433.9 1457.3" stroke-width="2.8"/>
<path d="M373.2 1592.2 A80.5 80.5 0 0 0 402 1611.8" stroke-width="2.8"/>
<line x1="232.5" y1="1533.6" x2="392.3" y2="1505.3"/>
<line x1="246" y1="1615.3" x2="402.5" y2="1587.2"/>
<path d="M330.8 1516.4 C352 1525 361 1545 359.9 1561.4 C359 1578 353 1590 344.1 1597.4"/>
<path d="M392.3 1505.5 C378 1514 368 1529 368.2 1543.1 C368.5 1560 381 1576 402.5 1583.4"/>
<path d="M433.9 1486.6 A51.2 51.2 0 0 0 402.8 1578.6"/>
<path d="M155.49 1499.93 L175.25 1496.45 A54.75 87.6 -10 0 1 205.67 1668.99 L185.91 1672.47 A54.75 87.6 -10 0 1 155.49 1499.93 Z" fill="#fff" stroke="none"/>
<path d="M186.9 1496.4L209 1506.7 M173.2 1496.8L221.4 1519.3 M162.6 1498.7L164.3 1499.5 M191.6 1512.3L228.4 1529.4 M202.6 1524.2L233.2 1538.5 M209.2 1534.2L237 1547.1 M214 1543.2L240 1555.3 M217.6 1551.7L242.2 1563.2 M220.4 1559.9L243.8 1570.8 M222.7 1567.8L245.1 1578.3 M224.2 1575.4L246 1585.5 M225.4 1582.7L246.2 1592.5 M226.2 1590L246.3 1599.4 M226.5 1596.9L246.1 1606.1 M226.6 1603.8L245.5 1612.6 M226.2 1610.5L244.5 1619 M225.5 1617L243.1 1625.2 M224.5 1623.4L241.4 1631.3 M223 1629.5L239.1 1637 M221.3 1635.6L236.7 1642.7 M219.2 1641.4L233.5 1648.1 M216.6 1647.1L230 1653.3 M213.4 1652.4L225.8 1658.2 M209.7 1657.5L220.4 1662.5 M205.3 1662.3L214 1666.4 M200 1666.7L205 1669 M193.2 1670.3L194.4 1670.9 M244.9 1616.8L225.4 1658.4 M246.4 1598.7L215.2 1665.8 M245.9 1585.2L207 1668.6 M244.4 1573.7L225.9 1613.4 M201.6 1665.4L199.5 1670 M242.3 1563.7L226.5 1597.4 M192.4 1670.6L192.1 1671.3 M239.7 1554.5L225.7 1584.6 M236.7 1546.3L223.9 1573.7 M233.3 1538.8L221.6 1564 M229.8 1531.8L218.9 1555.2 M225.8 1525.6L215.8 1547.1 M221.7 1519.7L212.3 1539.8 M217.3 1514.5L208.7 1533 M212.6 1509.9L204.7 1526.9 M207.7 1505.8L200.4 1521.4 M202.5 1502.3L196 1516.3 M196.9 1499.5L191.2 1511.8 M191.1 1497.4L186.2 1507.9 M184.8 1496.3L180.9 1504.6 M178 1496.2L175.3 1502 M170.6 1497.4L169.2 1500.3 M163.1 1498.7L162.7 1499.5" stroke-width="1.6"/>
<path d="M155.49 1499.93 L175.25 1496.45 A54.75 87.6 -10 0 1 205.67 1668.99 L185.91 1672.47" stroke-width="3.3"/>
<ellipse cx="170.7" cy="1586.2" rx="54.75" ry="87.6" transform="rotate(-10 170.7 1586.2)" stroke-width="3.3" fill="#fff"/>
<ellipse cx="170.7" cy="1586.2" rx="50.12" ry="80.2" transform="rotate(-10 170.7 1586.2)" stroke-width="2"/>
<clipPath id="wm5"><path d="M175.7 1615.8 L174.5 1616 L173.3 1616 L172.1 1615.9 L171 1615.7 L169.8 1615.3 L168.6 1614.9 L167.4 1614.3 L166.2 1613.6 L165.1 1612.8 L163.9 1612 L162.8 1611 L161.7 1609.9 L160.7 1608.8 L159.7 1607.5 L158.8 1606.2 L157.8 1604.8 L157 1603.3 L156 1602 L154.9 1601.1 L153.6 1600.4 L152.3 1600 L150.8 1599.9 L149.2 1600.1 L147.5 1600.5 L145.7 1601.3 L143.9 1602 L142.1 1602.7 L140.2 1603.3 L138.4 1604 L136.5 1604.6 L134.7 1605.2 L132.8 1605.8 L131 1606.4 L129.4 1607.1 L128.2 1608.1 L127.3 1609.2 L126.8 1610.4 L126.5 1611.9 L126.6 1613.5 L127 1615.3 L127.7 1617.2 L128.5 1619.2 L129.3 1621.1 L130.1 1623 L130.9 1624.8 L131.8 1626.6 L132.7 1628.4 L133.6 1630.2 L134.5 1632 L135.5 1633.7 L136.5 1635.3 L137.5 1637 L138.6 1638.6 L139.7 1640.1 L140.8 1641.7 L141.9 1643.2 L143 1644.6 L144.2 1646 L145.3 1647.4 L146.5 1648.7 L147.7 1650 L149 1651.2 L150.2 1652.4 L151.5 1653.5 L152.7 1654.6 L154 1655.6 L155.3 1656.6 L156.6 1657.5 L157.9 1658.4 L159.3 1659.2 L160.6 1660 L161.9 1660.8 L163.3 1661.4 L164.7 1662 L166 1662.6 L167.4 1663.1 L168.7 1663.6 L170.1 1664 L171.5 1664.3 L172.8 1664.6 L174.2 1664.8 L175.6 1665 L176.9 1665.1 L178.3 1665.2 L179.6 1665.2 L180.9 1665.2 L182.3 1665.1 L183.6 1664.9 L184.9 1664.7 L186.2 1664.4 L187.5 1664.1 L188.8 1663.7 L190.1 1663.2 L191.3 1662.7 L192.6 1662.2 L193.8 1661.6 L195 1660.9 L195.9 1660 L196.5 1658.8 L196.8 1657.4 L196.8 1655.8 L196.4 1653.8 L195.8 1651.7 L194.9 1649.3 L193.6 1646.6 L192.4 1643.9 L191.1 1641.3 L189.9 1638.6 L188.7 1635.9 L187.5 1633.2 L186.3 1630.4 L185.1 1627.7 L184 1625 L182.8 1622.6 L181.6 1620.6 L180.4 1618.9 L179.3 1617.6 L178.1 1616.7 L176.9 1616.1 Z"/></clipPath>
<g clip-path="url(#wm5)">
<path d="M190.3 1613.3 L189.1 1613.4 L187.9 1613.4 L186.8 1613.3 L185.6 1613.1 L184.4 1612.7 L183.2 1612.3 L182 1611.7 L180.8 1611.1 L179.7 1610.3 L178.5 1609.4 L177.4 1608.4 L176.4 1607.4 L175.3 1606.2 L174.3 1605 L173.4 1603.6 L172.5 1602.2 L171.6 1600.7 L170.6 1599.5 L169.5 1598.5 L168.2 1597.8 L166.9 1597.4 L165.4 1597.3 L163.8 1597.5 L162.1 1597.9 L160.3 1598.7 L158.5 1599.4 L156.7 1600.1 L154.8 1600.8 L153 1601.4 L151.1 1602 L149.3 1602.7 L147.4 1603.2 L145.6 1603.8 L144.1 1604.6 L142.8 1605.5 L141.9 1606.6 L141.4 1607.8 L141.1 1609.3 L141.2 1610.9 L141.6 1612.7 L142.3 1614.7 L143.1 1616.6 L143.9 1618.5 L144.7 1620.4 L145.5 1622.2 L146.4 1624.1 L147.3 1625.9 L148.2 1627.6 L149.2 1629.4 L150.1 1631.1 L151.1 1632.8 L152.2 1634.4 L153.2 1636 L154.3 1637.6 L155.4 1639.1 L156.5 1640.6 L157.6 1642 L158.8 1643.4 L160 1644.8 L161.1 1646.1 L162.4 1647.4 L163.6 1648.6 L164.8 1649.8 L166.1 1650.9 L167.4 1652 L168.6 1653 L169.9 1654 L171.2 1655 L172.6 1655.8 L173.9 1656.7 L175.2 1657.4 L176.6 1658.2 L177.9 1658.9 L179.3 1659.5 L180.6 1660 L182 1660.5 L183.3 1661 L184.7 1661.4 L186.1 1661.7 L187.4 1662 L188.8 1662.3 L190.2 1662.4 L191.5 1662.6 L192.9 1662.6 L194.2 1662.6 L195.5 1662.6 L196.9 1662.5 L198.2 1662.3 L199.5 1662.1 L200.8 1661.8 L202.1 1661.5 L203.4 1661.1 L204.7 1660.7 L205.9 1660.2 L207.2 1659.6 L208.4 1659 L209.6 1658.3 L210.5 1657.4 L211.1 1656.3 L211.4 1654.8 L211.4 1653.2 L211.1 1651.3 L210.4 1649.1 L209.5 1646.7 L208.2 1644 L207 1641.4 L205.7 1638.7 L204.5 1636 L203.3 1633.3 L202.1 1630.6 L200.9 1627.9 L199.7 1625.1 L198.6 1622.4 L197.4 1620 L196.2 1618 L195 1616.3 L193.9 1615 L192.7 1614.1 L191.5 1613.5 Z" stroke-width="2.6"/>
<ellipse cx="209.14" cy="1579.42" rx="23.12" ry="37" transform="rotate(-10 209.14 1579.42)" stroke-width="1.6"/>
<ellipse cx="215.29" cy="1578.34" rx="25.94" ry="41.5" transform="rotate(-10 215.29 1578.34)" stroke-width="1.8"/>
<ellipse cx="204.53" cy="1580.24" rx="20.62" ry="33" transform="rotate(-10 204.53 1580.24)" stroke-width="1.5"/>
</g>
<path d="M175.7 1615.8 L174.5 1616 L173.3 1616 L172.1 1615.9 L171 1615.7 L169.8 1615.3 L168.6 1614.9 L167.4 1614.3 L166.2 1613.6 L165.1 1612.8 L163.9 1612 L162.8 1611 L161.7 1609.9 L160.7 1608.8 L159.7 1607.5 L158.8 1606.2 L157.8 1604.8 L157 1603.3 L156 1602 L154.9 1601.1 L153.6 1600.4 L152.3 1600 L150.8 1599.9 L149.2 1600.1 L147.5 1600.5 L145.7 1601.3 L143.9 1602 L142.1 1602.7 L140.2 1603.3 L138.4 1604 L136.5 1604.6 L134.7 1605.2 L132.8 1605.8 L131 1606.4 L129.4 1607.1 L128.2 1608.1 L127.3 1609.2 L126.8 1610.4 L126.5 1611.9 L126.6 1613.5 L127 1615.3 L127.7 1617.2 L128.5 1619.2 L129.3 1621.1 L130.1 1623 L130.9 1624.8 L131.8 1626.6 L132.7 1628.4 L133.6 1630.2 L134.5 1632 L135.5 1633.7 L136.5 1635.3 L137.5 1637 L138.6 1638.6 L139.7 1640.1 L140.8 1641.7 L141.9 1643.2 L143 1644.6 L144.2 1646 L145.3 1647.4 L146.5 1648.7 L147.7 1650 L149 1651.2 L150.2 1652.4 L151.5 1653.5 L152.7 1654.6 L154 1655.6 L155.3 1656.6 L156.6 1657.5 L157.9 1658.4 L159.3 1659.2 L160.6 1660 L161.9 1660.8 L163.3 1661.4 L164.7 1662 L166 1662.6 L167.4 1663.1 L168.7 1663.6 L170.1 1664 L171.5 1664.3 L172.8 1664.6 L174.2 1664.8 L175.6 1665 L176.9 1665.1 L178.3 1665.2 L179.6 1665.2 L180.9 1665.2 L182.3 1665.1 L183.6 1664.9 L184.9 1664.7 L186.2 1664.4 L187.5 1664.1 L188.8 1663.7 L190.1 1663.2 L191.3 1662.7 L192.6 1662.2 L193.8 1661.6 L195 1660.9 L195.9 1660 L196.5 1658.8 L196.8 1657.4 L196.8 1655.8 L196.4 1653.8 L195.8 1651.7 L194.9 1649.3 L193.6 1646.6 L192.4 1643.9 L191.1 1641.3 L189.9 1638.6 L188.7 1635.9 L187.5 1633.2 L186.3 1630.4 L185.1 1627.7 L184 1625 L182.8 1622.6 L181.6 1620.6 L180.4 1618.9 L179.3 1617.6 L178.1 1616.7 L176.9 1616.1 Z" stroke-width="1.9"/>
<clipPath id="wm6"><path d="M151.3 1582 L151.3 1580.5 L151.3 1579 L151.4 1577.5 L151.6 1576.1 L151.8 1574.7 L152 1573.3 L152.3 1571.9 L152.7 1570.6 L153.1 1569.3 L153.5 1568 L154 1566.9 L154.5 1565.7 L155 1564.6 L155.6 1563.6 L156.3 1562.6 L157 1561.7 L157.7 1560.9 L158.2 1559.7 L158.6 1558.3 L158.7 1556.7 L158.7 1554.8 L158.5 1552.6 L158.1 1550.1 L157.5 1547.4 L156.7 1544.4 L155.9 1541.4 L155.2 1538.5 L154.4 1535.5 L153.7 1532.5 L153 1529.5 L152.2 1526.5 L151.5 1523.5 L150.9 1520.4 L150.1 1517.9 L149.3 1515.9 L148.4 1514.4 L147.4 1513.3 L146.3 1512.8 L145.2 1512.7 L144 1513.1 L142.7 1514.1 L141.4 1515.1 L140.2 1516.1 L139 1517.2 L137.8 1518.4 L136.7 1519.6 L135.5 1520.9 L134.5 1522.3 L133.4 1523.7 L132.4 1525.2 L131.4 1526.7 L130.4 1528.3 L129.5 1529.9 L128.7 1531.5 L127.8 1533.3 L127 1535 L126.3 1536.9 L125.5 1538.7 L124.8 1540.6 L124.2 1542.6 L123.6 1544.6 L123.1 1546.6 L122.5 1548.6 L122.1 1550.7 L121.6 1552.8 L121.2 1555 L120.9 1557.2 L120.6 1559.4 L120.4 1561.6 L120.1 1563.8 L120 1566.1 L119.9 1568.4 L119.8 1570.7 L119.8 1573 L119.8 1575.4 L119.9 1577.7 L120 1580 L120.1 1582.4 L120.3 1584.7 L120.6 1587.1 L120.9 1589.5 L121.3 1591.4 L122 1593 L122.9 1594.2 L123.9 1595.1 L125.2 1595.5 L126.6 1595.5 L128.2 1595.2 L130.1 1594.4 L131.9 1593.7 L133.7 1593 L135.5 1592.4 L137.4 1591.7 L139.2 1591.1 L141.1 1590.5 L142.9 1589.9 L144.8 1589.3 L146.4 1588.6 L147.8 1587.8 L149 1586.9 L149.9 1585.8 L150.6 1584.7 L151 1583.4 Z"/></clipPath>
<g clip-path="url(#wm6)">
<path d="M165.9 1579.4 L165.9 1577.9 L165.9 1576.4 L166 1574.9 L166.2 1573.5 L166.4 1572.1 L166.6 1570.7 L166.9 1569.3 L167.3 1568 L167.7 1566.7 L168.1 1565.5 L168.6 1564.3 L169.1 1563.1 L169.6 1562.1 L170.2 1561 L170.9 1560.1 L171.6 1559.1 L172.3 1558.3 L172.8 1557.1 L173.2 1555.8 L173.3 1554.1 L173.3 1552.2 L173.1 1550 L172.7 1547.5 L172.1 1544.8 L171.3 1541.9 L170.5 1538.9 L169.8 1535.9 L169 1532.9 L168.3 1529.9 L167.6 1526.9 L166.8 1523.9 L166.2 1520.9 L165.5 1517.9 L164.7 1515.4 L163.9 1513.3 L163 1511.8 L162 1510.7 L160.9 1510.2 L159.8 1510.1 L158.6 1510.6 L157.3 1511.5 L156 1512.5 L154.8 1513.5 L153.6 1514.7 L152.4 1515.8 L151.3 1517.1 L150.2 1518.4 L149.1 1519.7 L148 1521.1 L147 1522.6 L146 1524.1 L145.1 1525.7 L144.1 1527.3 L143.3 1529 L142.4 1530.7 L141.6 1532.5 L140.9 1534.3 L140.1 1536.2 L139.5 1538.1 L138.8 1540 L138.2 1542 L137.7 1544 L137.1 1546 L136.7 1548.1 L136.2 1550.3 L135.9 1552.4 L135.5 1554.6 L135.2 1556.8 L135 1559 L134.8 1561.3 L134.6 1563.5 L134.5 1565.8 L134.4 1568.1 L134.4 1570.5 L134.4 1572.8 L134.5 1575.1 L134.6 1577.5 L134.7 1579.8 L134.9 1582.2 L135.2 1584.5 L135.5 1586.9 L135.9 1588.9 L136.6 1590.5 L137.5 1591.7 L138.5 1592.5 L139.8 1592.9 L141.2 1593 L142.8 1592.6 L144.7 1591.9 L146.5 1591.2 L148.3 1590.5 L150.1 1589.8 L152 1589.1 L153.8 1588.5 L155.7 1587.9 L157.5 1587.3 L159.4 1586.7 L161 1586 L162.4 1585.2 L163.6 1584.3 L164.5 1583.3 L165.2 1582.1 L165.7 1580.8 Z" stroke-width="2.6"/>
<ellipse cx="209.14" cy="1579.42" rx="23.12" ry="37" transform="rotate(-10 209.14 1579.42)" stroke-width="1.6"/>
<ellipse cx="215.29" cy="1578.34" rx="25.94" ry="41.5" transform="rotate(-10 215.29 1578.34)" stroke-width="1.8"/>
<ellipse cx="204.53" cy="1580.24" rx="20.62" ry="33" transform="rotate(-10 204.53 1580.24)" stroke-width="1.5"/>
</g>
<path d="M151.3 1582 L151.3 1580.5 L151.3 1579 L151.4 1577.5 L151.6 1576.1 L151.8 1574.7 L152 1573.3 L152.3 1571.9 L152.7 1570.6 L153.1 1569.3 L153.5 1568 L154 1566.9 L154.5 1565.7 L155 1564.6 L155.6 1563.6 L156.3 1562.6 L157 1561.7 L157.7 1560.9 L158.2 1559.7 L158.6 1558.3 L158.7 1556.7 L158.7 1554.8 L158.5 1552.6 L158.1 1550.1 L157.5 1547.4 L156.7 1544.4 L155.9 1541.4 L155.2 1538.5 L154.4 1535.5 L153.7 1532.5 L153 1529.5 L152.2 1526.5 L151.5 1523.5 L150.9 1520.4 L150.1 1517.9 L149.3 1515.9 L148.4 1514.4 L147.4 1513.3 L146.3 1512.8 L145.2 1512.7 L144 1513.1 L142.7 1514.1 L141.4 1515.1 L140.2 1516.1 L139 1517.2 L137.8 1518.4 L136.7 1519.6 L135.5 1520.9 L134.5 1522.3 L133.4 1523.7 L132.4 1525.2 L131.4 1526.7 L130.4 1528.3 L129.5 1529.9 L128.7 1531.5 L127.8 1533.3 L127 1535 L126.3 1536.9 L125.5 1538.7 L124.8 1540.6 L124.2 1542.6 L123.6 1544.6 L123.1 1546.6 L122.5 1548.6 L122.1 1550.7 L121.6 1552.8 L121.2 1555 L120.9 1557.2 L120.6 1559.4 L120.4 1561.6 L120.1 1563.8 L120 1566.1 L119.9 1568.4 L119.8 1570.7 L119.8 1573 L119.8 1575.4 L119.9 1577.7 L120 1580 L120.1 1582.4 L120.3 1584.7 L120.6 1587.1 L120.9 1589.5 L121.3 1591.4 L122 1593 L122.9 1594.2 L123.9 1595.1 L125.2 1595.5 L126.6 1595.5 L128.2 1595.2 L130.1 1594.4 L131.9 1593.7 L133.7 1593 L135.5 1592.4 L137.4 1591.7 L139.2 1591.1 L141.1 1590.5 L142.9 1589.9 L144.8 1589.3 L146.4 1588.6 L147.8 1587.8 L149 1586.9 L149.9 1585.8 L150.6 1584.7 L151 1583.4 Z" stroke-width="1.9"/>
<clipPath id="wm7"><path d="M170.1 1556.3 L171.1 1556.6 L172 1556.9 L173 1557.3 L173.9 1557.7 L174.9 1558.2 L175.8 1558.8 L176.7 1559.5 L177.6 1560.2 L178.5 1561 L179.4 1561.8 L180.2 1562.7 L181 1563.7 L181.8 1564.7 L182.6 1565.7 L183.3 1566.8 L184 1568 L184.7 1569.2 L185.6 1570.2 L186.5 1570.9 L187.6 1571.3 L188.9 1571.5 L190.2 1571.4 L191.8 1571.1 L193.4 1570.5 L195.2 1569.7 L197 1568.9 L198.8 1568.1 L200.6 1567.3 L202.4 1566.5 L204.2 1565.8 L206 1565.1 L207.9 1564.4 L209.7 1563.7 L211.2 1562.9 L212.4 1561.8 L213.2 1560.6 L213.7 1559.2 L213.9 1557.7 L213.7 1555.9 L213.2 1554 L212.3 1551.9 L211.5 1549.9 L210.5 1547.8 L209.6 1545.8 L208.6 1543.9 L207.6 1542 L206.6 1540.1 L205.5 1538.2 L204.4 1536.4 L203.3 1534.7 L202.1 1532.9 L201 1531.3 L199.8 1529.6 L198.5 1528.1 L197.3 1526.5 L196 1525.1 L194.7 1523.6 L193.4 1522.2 L192 1520.9 L190.7 1519.7 L189.3 1518.5 L187.9 1517.3 L186.5 1516.2 L185.1 1515.2 L183.7 1514.2 L182.2 1513.3 L180.8 1512.4 L179.3 1511.7 L177.8 1510.9 L176.4 1510.3 L174.9 1509.7 L173.4 1509.1 L171.9 1508.7 L170.4 1508.3 L169 1507.9 L167.5 1507.7 L166 1507.5 L164.5 1507.3 L163.1 1507.3 L161.6 1507.3 L160.1 1507.3 L158.9 1507.8 L158 1508.6 L157.4 1509.7 L157.1 1511.3 L157 1513.1 L157.2 1515.4 L157.7 1518 L158.5 1521 L159.3 1524 L160.1 1527 L160.8 1529.9 L161.5 1532.9 L162.3 1535.9 L163 1538.9 L163.7 1542 L164.3 1545 L165.1 1547.6 L165.8 1549.9 L166.6 1551.9 L167.4 1553.5 L168.3 1554.8 L169.2 1555.8 Z"/></clipPath>
<g clip-path="url(#wm7)">
<path d="M184.7 1553.8 L185.7 1554 L186.7 1554.3 L187.6 1554.7 L188.5 1555.1 L189.5 1555.7 L190.4 1556.2 L191.3 1556.9 L192.2 1557.6 L193.1 1558.4 L194 1559.2 L194.8 1560.1 L195.6 1561.1 L196.4 1562.1 L197.2 1563.1 L197.9 1564.2 L198.7 1565.4 L199.3 1566.6 L200.2 1567.6 L201.1 1568.3 L202.2 1568.7 L203.5 1568.9 L204.8 1568.9 L206.4 1568.5 L208 1568 L209.8 1567.1 L211.6 1566.3 L213.4 1565.5 L215.2 1564.7 L217 1564 L218.8 1563.2 L220.6 1562.5 L222.5 1561.8 L224.3 1561.1 L225.8 1560.3 L227 1559.3 L227.8 1558.1 L228.3 1556.7 L228.5 1555.1 L228.3 1553.4 L227.8 1551.4 L226.9 1549.3 L226.1 1547.3 L225.2 1545.3 L224.2 1543.3 L223.2 1541.3 L222.2 1539.4 L221.2 1537.5 L220.1 1535.7 L219 1533.9 L217.9 1532.1 L216.7 1530.4 L215.6 1528.7 L214.4 1527.1 L213.1 1525.5 L211.9 1524 L210.6 1522.5 L209.3 1521 L208 1519.7 L206.6 1518.4 L205.3 1517.1 L203.9 1515.9 L202.5 1514.7 L201.1 1513.6 L199.7 1512.6 L198.3 1511.6 L196.8 1510.7 L195.4 1509.9 L193.9 1509.1 L192.4 1508.4 L191 1507.7 L189.5 1507.1 L188 1506.6 L186.5 1506.1 L185 1505.7 L183.6 1505.4 L182.1 1505.1 L180.6 1504.9 L179.1 1504.8 L177.7 1504.7 L176.2 1504.7 L174.7 1504.8 L173.5 1505.2 L172.6 1506 L172 1507.2 L171.7 1508.7 L171.6 1510.6 L171.8 1512.8 L172.3 1515.4 L173.1 1518.4 L173.9 1521.4 L174.7 1524.4 L175.4 1527.4 L176.1 1530.4 L176.9 1533.4 L177.6 1536.4 L178.3 1539.4 L178.9 1542.4 L179.7 1545.1 L180.4 1547.4 L181.2 1549.3 L182 1551 L182.9 1552.3 L183.8 1553.2 Z" stroke-width="2.6"/>
<ellipse cx="209.14" cy="1579.42" rx="23.12" ry="37" transform="rotate(-10 209.14 1579.42)" stroke-width="1.6"/>
<ellipse cx="215.29" cy="1578.34" rx="25.94" ry="41.5" transform="rotate(-10 215.29 1578.34)" stroke-width="1.8"/>
<ellipse cx="204.53" cy="1580.24" rx="20.62" ry="33" transform="rotate(-10 204.53 1580.24)" stroke-width="1.5"/>
</g>
<path d="M170.1 1556.3 L171.1 1556.6 L172 1556.9 L173 1557.3 L173.9 1557.7 L174.9 1558.2 L175.8 1558.8 L176.7 1559.5 L177.6 1560.2 L178.5 1561 L179.4 1561.8 L180.2 1562.7 L181 1563.7 L181.8 1564.7 L182.6 1565.7 L183.3 1566.8 L184 1568 L184.7 1569.2 L185.6 1570.2 L186.5 1570.9 L187.6 1571.3 L188.9 1571.5 L190.2 1571.4 L191.8 1571.1 L193.4 1570.5 L195.2 1569.7 L197 1568.9 L198.8 1568.1 L200.6 1567.3 L202.4 1566.5 L204.2 1565.8 L206 1565.1 L207.9 1564.4 L209.7 1563.7 L211.2 1562.9 L212.4 1561.8 L213.2 1560.6 L213.7 1559.2 L213.9 1557.7 L213.7 1555.9 L213.2 1554 L212.3 1551.9 L211.5 1549.9 L210.5 1547.8 L209.6 1545.8 L208.6 1543.9 L207.6 1542 L206.6 1540.1 L205.5 1538.2 L204.4 1536.4 L203.3 1534.7 L202.1 1532.9 L201 1531.3 L199.8 1529.6 L198.5 1528.1 L197.3 1526.5 L196 1525.1 L194.7 1523.6 L193.4 1522.2 L192 1520.9 L190.7 1519.7 L189.3 1518.5 L187.9 1517.3 L186.5 1516.2 L185.1 1515.2 L183.7 1514.2 L182.2 1513.3 L180.8 1512.4 L179.3 1511.7 L177.8 1510.9 L176.4 1510.3 L174.9 1509.7 L173.4 1509.1 L171.9 1508.7 L170.4 1508.3 L169 1507.9 L167.5 1507.7 L166 1507.5 L164.5 1507.3 L163.1 1507.3 L161.6 1507.3 L160.1 1507.3 L158.9 1507.8 L158 1508.6 L157.4 1509.7 L157.1 1511.3 L157 1513.1 L157.2 1515.4 L157.7 1518 L158.5 1521 L159.3 1524 L160.1 1527 L160.8 1529.9 L161.5 1532.9 L162.3 1535.9 L163 1538.9 L163.7 1542 L164.3 1545 L165.1 1547.6 L165.8 1549.9 L166.6 1551.9 L167.4 1553.5 L168.3 1554.8 L169.2 1555.8 Z" stroke-width="1.9"/>
<clipPath id="wm8"><path d="M189.9 1590.4 L189.9 1592.2 L189.9 1594 L189.7 1595.7 L189.5 1597.4 L189.2 1599 L188.9 1600.6 L188.4 1602.2 L188 1603.7 L187.4 1605.1 L187.1 1606.7 L186.9 1608.5 L187.1 1610.4 L187.4 1612.5 L188 1614.7 L188.8 1617 L189.8 1619.5 L191.1 1622.2 L192.3 1624.9 L193.5 1627.6 L194.8 1630.2 L196 1632.9 L197.2 1635.7 L198.4 1638.4 L199.5 1641.1 L200.7 1643.8 L201.9 1646 L203 1647.7 L204.1 1648.9 L205.2 1649.5 L206.3 1649.6 L207.3 1649.2 L208.3 1648.2 L209.3 1646.7 L210.3 1645.2 L211.3 1643.6 L212.1 1642 L213 1640.3 L213.8 1638.6 L214.6 1636.8 L215.4 1635 L216.1 1633.1 L216.7 1631.2 L217.4 1629.3 L218 1627.3 L218.5 1625.3 L219 1623.2 L219.5 1621.1 L219.9 1619 L220.2 1616.8 L220.6 1614.7 L220.9 1612.5 L221.1 1610.3 L221.3 1608 L221.4 1605.8 L221.6 1603.5 L221.6 1601.2 L221.6 1598.9 L221.6 1596.5 L221.5 1594.2 L221.4 1591.9 L221.3 1589.5 L221 1587.2 L220.8 1584.8 L220.5 1582.5 L220.1 1580.1 L219.6 1578.2 L218.9 1576.6 L218 1575.5 L217 1574.7 L215.7 1574.4 L214.3 1574.4 L212.7 1574.8 L210.9 1575.7 L209.1 1576.5 L207.3 1577.3 L205.5 1578.1 L203.7 1578.8 L201.9 1579.6 L200 1580.3 L198.2 1581 L196.4 1581.7 L194.8 1582.5 L193.4 1583.4 L192.3 1584.5 L191.3 1585.8 L190.6 1587.2 L190.2 1588.7 Z"/></clipPath>
<g clip-path="url(#wm8)">
<path d="M204.6 1587.8 L204.5 1589.6 L204.5 1591.4 L204.3 1593.1 L204.1 1594.8 L203.8 1596.4 L203.5 1598 L203.1 1599.6 L202.6 1601.1 L202 1602.5 L201.7 1604.2 L201.6 1605.9 L201.7 1607.8 L202 1609.9 L202.6 1612.1 L203.4 1614.5 L204.4 1617 L205.7 1619.6 L206.9 1622.3 L208.2 1625 L209.4 1627.7 L210.6 1630.4 L211.8 1633.1 L213 1635.8 L214.2 1638.5 L215.3 1641.3 L216.5 1643.5 L217.6 1645.2 L218.7 1646.3 L219.8 1646.9 L220.9 1647 L221.9 1646.6 L222.9 1645.7 L224 1644.2 L224.9 1642.6 L225.9 1641.1 L226.8 1639.4 L227.6 1637.7 L228.4 1636 L229.2 1634.2 L230 1632.4 L230.7 1630.5 L231.4 1628.6 L232 1626.7 L232.6 1624.7 L233.1 1622.7 L233.6 1620.6 L234.1 1618.6 L234.5 1616.4 L234.9 1614.3 L235.2 1612.1 L235.5 1609.9 L235.7 1607.7 L235.9 1605.4 L236.1 1603.2 L236.2 1600.9 L236.2 1598.6 L236.2 1596.3 L236.2 1594 L236.1 1591.6 L236 1589.3 L235.9 1587 L235.6 1584.6 L235.4 1582.3 L235.1 1579.9 L234.8 1577.6 L234.2 1575.6 L233.5 1574.1 L232.6 1572.9 L231.6 1572.1 L230.3 1571.8 L228.9 1571.8 L227.3 1572.3 L225.5 1573.1 L223.7 1573.9 L221.9 1574.7 L220.1 1575.5 L218.3 1576.3 L216.5 1577 L214.7 1577.7 L212.8 1578.4 L211 1579.1 L209.4 1579.9 L208 1580.9 L206.9 1582 L205.9 1583.2 L205.3 1584.6 L204.8 1586.1 Z" stroke-width="2.6"/>
<ellipse cx="209.14" cy="1579.42" rx="23.12" ry="37" transform="rotate(-10 209.14 1579.42)" stroke-width="1.6"/>
<ellipse cx="215.29" cy="1578.34" rx="25.94" ry="41.5" transform="rotate(-10 215.29 1578.34)" stroke-width="1.8"/>
<ellipse cx="204.53" cy="1580.24" rx="20.62" ry="33" transform="rotate(-10 204.53 1580.24)" stroke-width="1.5"/>
</g>
<path d="M189.9 1590.4 L189.9 1592.2 L189.9 1594 L189.7 1595.7 L189.5 1597.4 L189.2 1599 L188.9 1600.6 L188.4 1602.2 L188 1603.7 L187.4 1605.1 L187.1 1606.7 L186.9 1608.5 L187.1 1610.4 L187.4 1612.5 L188 1614.7 L188.8 1617 L189.8 1619.5 L191.1 1622.2 L192.3 1624.9 L193.5 1627.6 L194.8 1630.2 L196 1632.9 L197.2 1635.7 L198.4 1638.4 L199.5 1641.1 L200.7 1643.8 L201.9 1646 L203 1647.7 L204.1 1648.9 L205.2 1649.5 L206.3 1649.6 L207.3 1649.2 L208.3 1648.2 L209.3 1646.7 L210.3 1645.2 L211.3 1643.6 L212.1 1642 L213 1640.3 L213.8 1638.6 L214.6 1636.8 L215.4 1635 L216.1 1633.1 L216.7 1631.2 L217.4 1629.3 L218 1627.3 L218.5 1625.3 L219 1623.2 L219.5 1621.1 L219.9 1619 L220.2 1616.8 L220.6 1614.7 L220.9 1612.5 L221.1 1610.3 L221.3 1608 L221.4 1605.8 L221.6 1603.5 L221.6 1601.2 L221.6 1598.9 L221.6 1596.5 L221.5 1594.2 L221.4 1591.9 L221.3 1589.5 L221 1587.2 L220.8 1584.8 L220.5 1582.5 L220.1 1580.1 L219.6 1578.2 L218.9 1576.6 L218 1575.5 L217 1574.7 L215.7 1574.4 L214.3 1574.4 L212.7 1574.8 L210.9 1575.7 L209.1 1576.5 L207.3 1577.3 L205.5 1578.1 L203.7 1578.8 L201.9 1579.6 L200 1580.3 L198.2 1581 L196.4 1581.7 L194.8 1582.5 L193.4 1583.4 L192.3 1584.5 L191.3 1585.8 L190.6 1587.2 L190.2 1588.7 Z" stroke-width="1.9"/>
<ellipse cx="170.7" cy="1586.2" rx="16.56" ry="26.5" transform="rotate(-10 170.7 1586.2)" stroke-width="2.2" fill="#fff"/>
<ellipse cx="169.55" cy="1586.4" rx="14.06" ry="22.5" transform="rotate(-10 169.55 1586.4)" stroke-width="1.6"/>
<ellipse cx="163.31" cy="1587.5" rx="8.44" ry="13.5" transform="rotate(-10 163.31 1587.5)" stroke-width="2" fill="#fff"/>
<ellipse cx="162.33" cy="1587.68" rx="5.94" ry="9.5" transform="rotate(-10 162.33 1587.68)" stroke-width="1.6"/>
<ellipse cx="161.84" cy="1587.76" rx="3.12" ry="5" transform="rotate(-10 161.84 1587.76)" stroke-width="1.8"/>
</g>
<path d="M403.1 1915 L403.1 1537.9 A31.05 31.05 0 0 1 465.2 1537.9 L465.2 1915" fill="#fff"/>
<path d="M403 1905.5 C402 1909 402 1912 402 1915.5 A32.1 32.1 0 0 0 466.2 1915.5 C466.2 1912 466.2 1909 465.2 1905.5" stroke-width="4"/>
</svg>
</body>
</html>
